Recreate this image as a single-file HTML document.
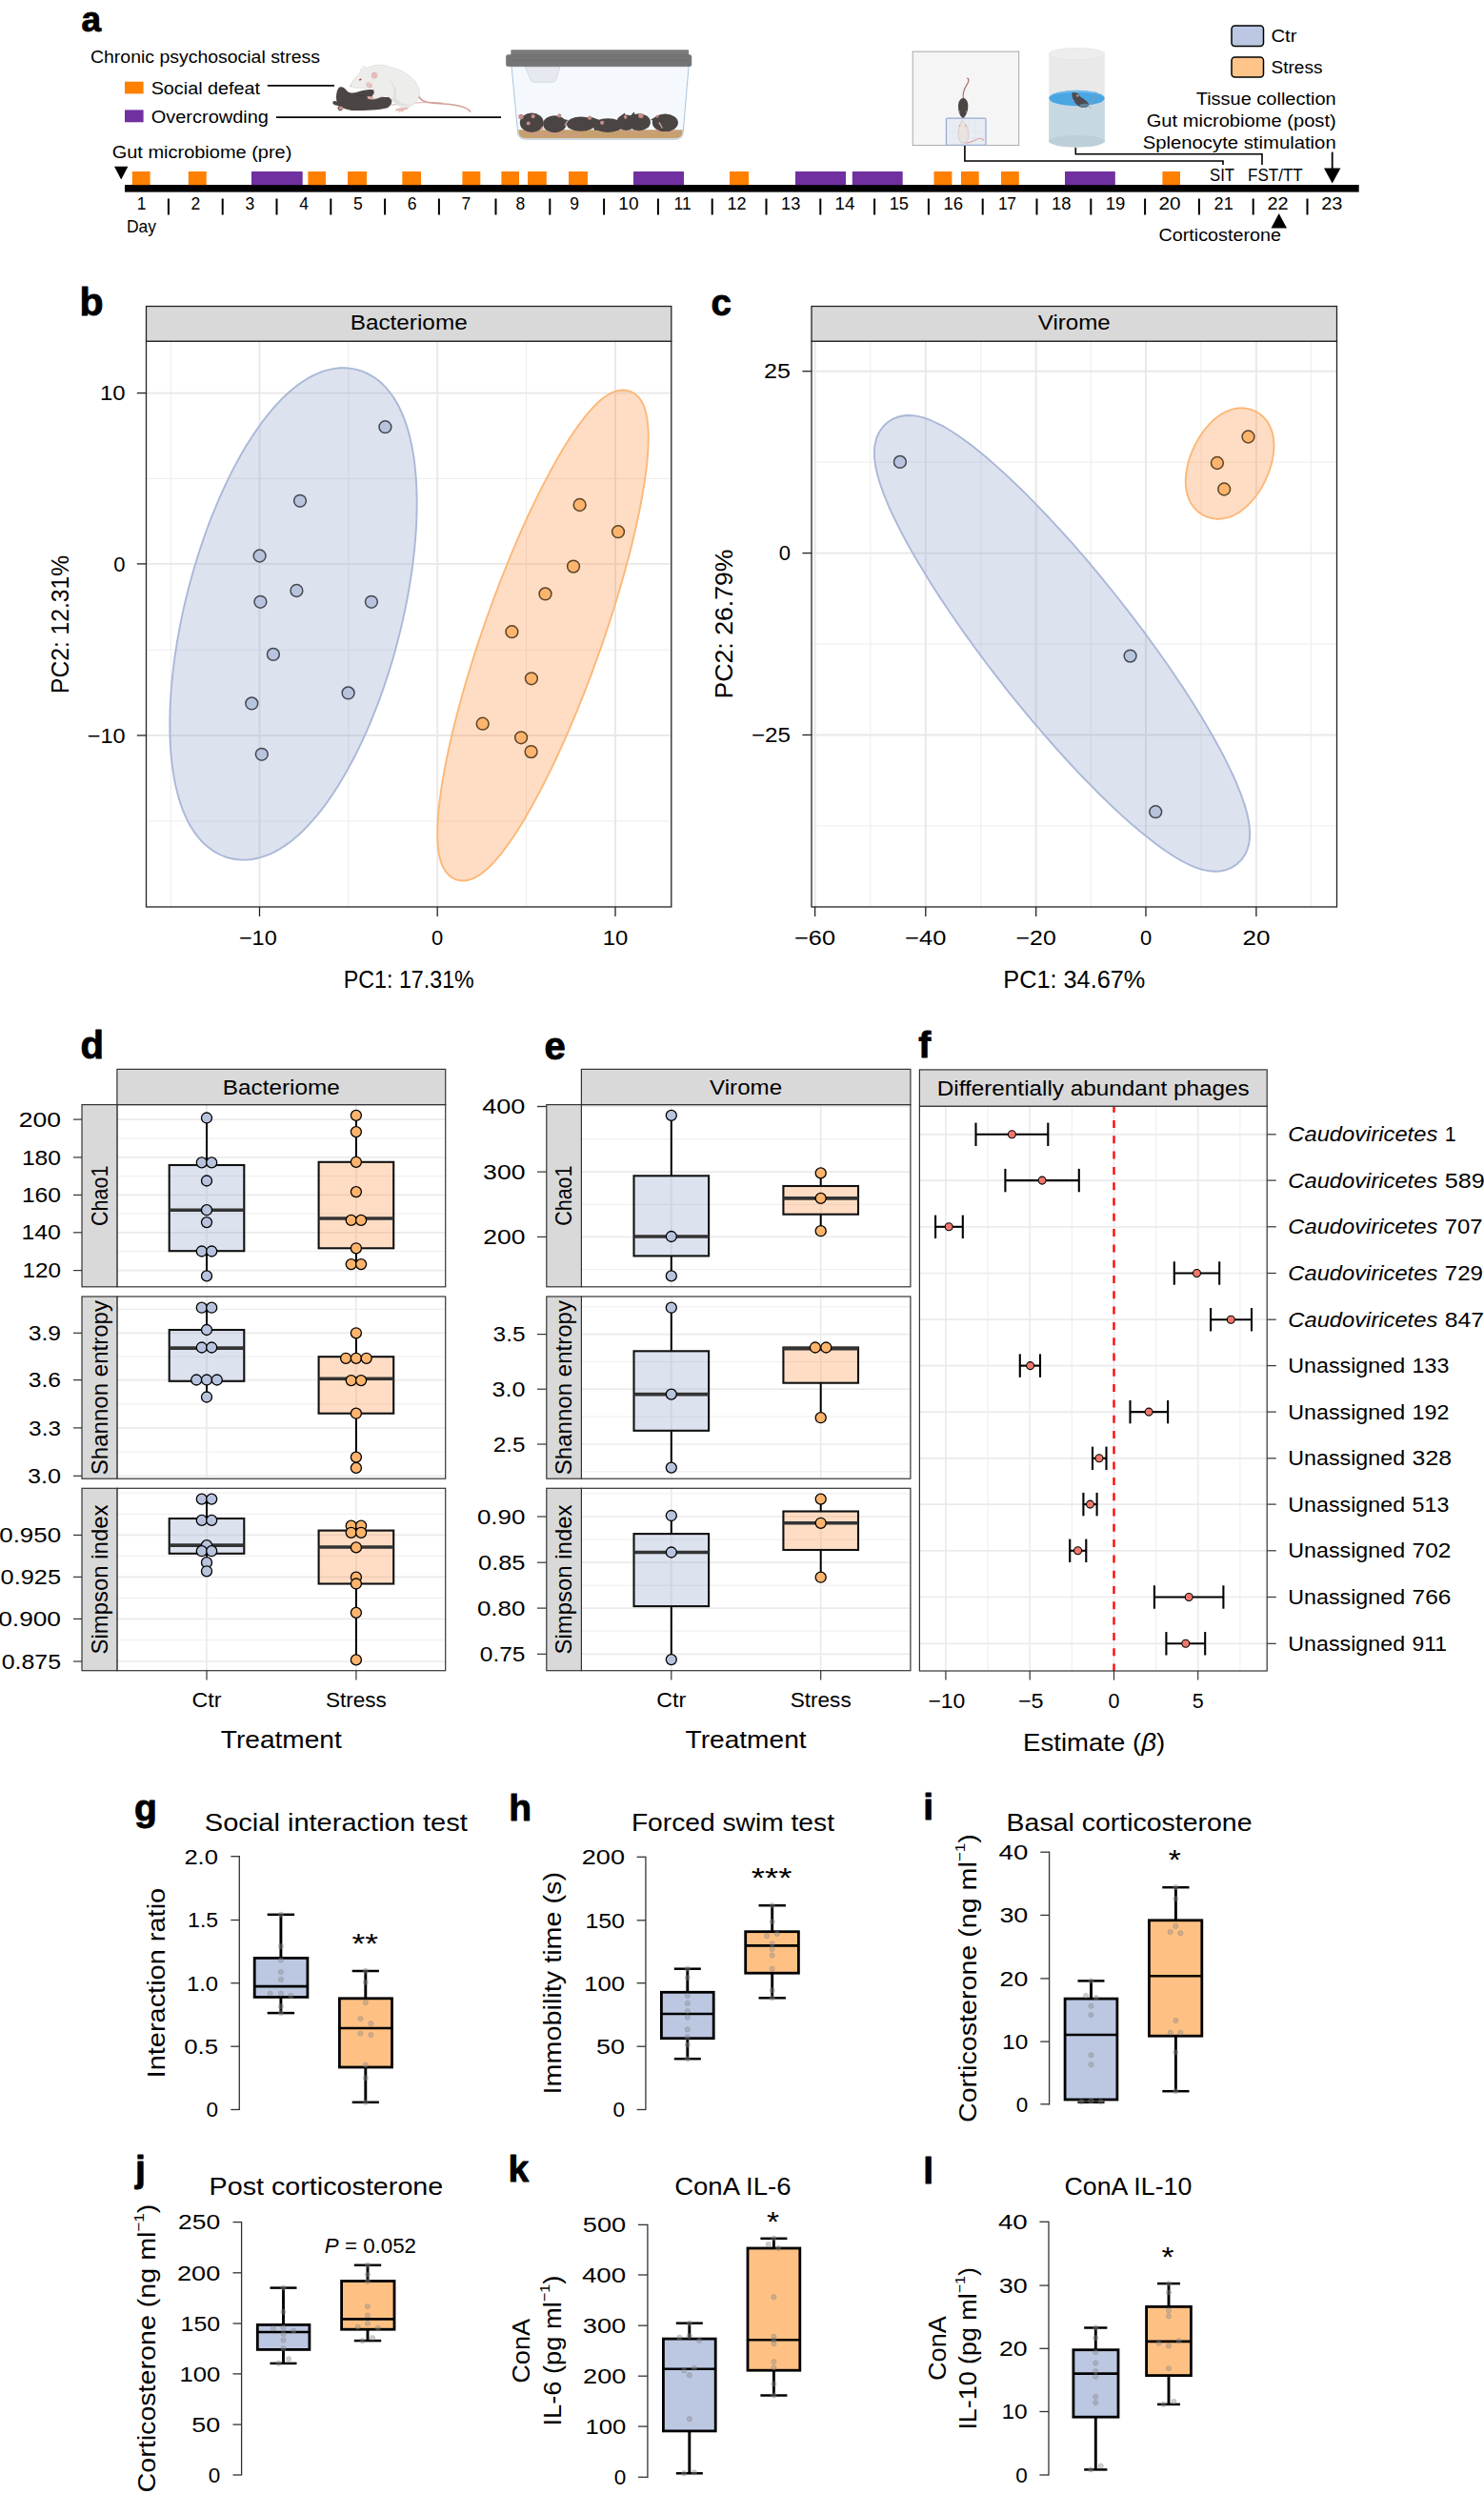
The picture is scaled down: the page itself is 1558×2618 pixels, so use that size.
<!DOCTYPE html>
<html><head><meta charset="utf-8"><title>Figure</title>
<style>html,body{margin:0;padding:0;background:#fff}svg{display:block}text{font-family:"Liberation Sans",sans-serif}</style>
</head><body>
<svg width="1558" height="2618" viewBox="0 0 1558 2618">
<rect width="1558" height="2618" fill="#fff"/>
<text x="85.5" y="33.0" font-size="37" font-weight="bold" stroke="#000" stroke-width="0.9" stroke-linejoin="round" fill="#000">a</text>
<text x="95.0" y="66.0" font-size="17.5" fill="#000" textLength="241.0" lengthAdjust="spacingAndGlyphs">Chronic psychosocial stress</text>
<rect x="131.0" y="85.7" width="19.6" height="12.7" fill="#ff8000" stroke="none" stroke-width="1"/>
<rect x="131.0" y="115.4" width="19.6" height="12.9" fill="#7030a0" stroke="none" stroke-width="1"/>
<text x="158.7" y="99.2" font-size="17.5" fill="#000" textLength="114.3" lengthAdjust="spacingAndGlyphs">Social defeat</text>
<text x="158.7" y="128.8" font-size="17.5" fill="#000" textLength="123.3" lengthAdjust="spacingAndGlyphs">Overcrowding</text>
<line x1="280.8" y1="89.8" x2="351.0" y2="89.8" stroke="#000" stroke-width="1.8"/>
<line x1="290.0" y1="123.2" x2="526.0" y2="123.2" stroke="#000" stroke-width="1.8"/>
<text x="117.7" y="166.3" font-size="17.5" fill="#000" textLength="188.7" lengthAdjust="spacingAndGlyphs">Gut microbiome (pre)</text>
<polygon points="120,174.7 134.4,174.7 127.2,188.5" fill="#000"/>
<rect x="131.0" y="194.0" width="1295.7" height="7.6" fill="#000" stroke="none" stroke-width="1"/>
<rect x="138.8" y="180.0" width="18.8" height="14.2" fill="#ff8000" stroke="none" stroke-width="1"/>
<rect x="197.8" y="180.0" width="18.9" height="14.2" fill="#ff8000" stroke="none" stroke-width="1"/>
<rect x="323.4" y="180.0" width="18.6" height="14.2" fill="#ff8000" stroke="none" stroke-width="1"/>
<rect x="365.0" y="180.0" width="20.0" height="14.2" fill="#ff8000" stroke="none" stroke-width="1"/>
<rect x="422.3" y="180.0" width="19.7" height="14.2" fill="#ff8000" stroke="none" stroke-width="1"/>
<rect x="485.4" y="180.0" width="18.9" height="14.2" fill="#ff8000" stroke="none" stroke-width="1"/>
<rect x="526.4" y="180.0" width="18.6" height="14.2" fill="#ff8000" stroke="none" stroke-width="1"/>
<rect x="554.0" y="180.0" width="19.8" height="14.2" fill="#ff8000" stroke="none" stroke-width="1"/>
<rect x="597.0" y="180.0" width="20.0" height="14.2" fill="#ff8000" stroke="none" stroke-width="1"/>
<rect x="766.0" y="180.0" width="20.0" height="14.2" fill="#ff8000" stroke="none" stroke-width="1"/>
<rect x="980.5" y="180.0" width="18.9" height="14.2" fill="#ff8000" stroke="none" stroke-width="1"/>
<rect x="1009.0" y="180.0" width="18.7" height="14.2" fill="#ff8000" stroke="none" stroke-width="1"/>
<rect x="1051.0" y="180.0" width="18.8" height="14.2" fill="#ff8000" stroke="none" stroke-width="1"/>
<rect x="1220.4" y="180.0" width="18.6" height="14.2" fill="#ff8000" stroke="none" stroke-width="1"/>
<rect x="264.0" y="180.0" width="53.7" height="14.2" fill="#7030a0" stroke="none" stroke-width="1"/>
<rect x="665.0" y="180.0" width="53.0" height="14.2" fill="#7030a0" stroke="none" stroke-width="1"/>
<rect x="835.0" y="180.0" width="53.0" height="14.2" fill="#7030a0" stroke="none" stroke-width="1"/>
<rect x="894.8" y="180.0" width="52.9" height="14.2" fill="#7030a0" stroke="none" stroke-width="1"/>
<rect x="1118.0" y="180.0" width="52.8" height="14.2" fill="#7030a0" stroke="none" stroke-width="1"/>
<text x="143.8" y="219.7" font-size="17.5" fill="#000">1</text>
<line x1="176.9" y1="208.5" x2="176.9" y2="225.5" stroke="#000" stroke-width="2"/>
<text x="200.6" y="219.7" font-size="17.5" fill="#000">2</text>
<line x1="233.7" y1="208.5" x2="233.7" y2="225.5" stroke="#000" stroke-width="2"/>
<text x="257.4" y="219.7" font-size="17.5" fill="#000">3</text>
<line x1="290.5" y1="208.5" x2="290.5" y2="225.5" stroke="#000" stroke-width="2"/>
<text x="314.2" y="219.7" font-size="17.5" fill="#000">4</text>
<line x1="347.3" y1="208.5" x2="347.3" y2="225.5" stroke="#000" stroke-width="2"/>
<text x="371.0" y="219.7" font-size="17.5" fill="#000">5</text>
<line x1="404.1" y1="208.5" x2="404.1" y2="225.5" stroke="#000" stroke-width="2"/>
<text x="427.8" y="219.7" font-size="17.5" fill="#000">6</text>
<line x1="460.9" y1="208.5" x2="460.9" y2="225.5" stroke="#000" stroke-width="2"/>
<text x="484.6" y="219.7" font-size="17.5" fill="#000">7</text>
<line x1="520.5" y1="208.5" x2="520.5" y2="225.5" stroke="#000" stroke-width="2"/>
<text x="541.4" y="219.7" font-size="17.5" fill="#000">8</text>
<line x1="577.3" y1="208.5" x2="577.3" y2="225.5" stroke="#000" stroke-width="2"/>
<text x="598.2" y="219.7" font-size="17.5" fill="#000">9</text>
<line x1="634.1" y1="208.5" x2="634.1" y2="225.5" stroke="#000" stroke-width="2"/>
<text x="649.3" y="219.7" font-size="17.5" fill="#000" textLength="21.2" lengthAdjust="spacingAndGlyphs">10</text>
<line x1="690.9" y1="208.5" x2="690.9" y2="225.5" stroke="#000" stroke-width="2"/>
<text x="707.6" y="219.7" font-size="17.5" fill="#000">11</text>
<line x1="747.7" y1="208.5" x2="747.7" y2="225.5" stroke="#000" stroke-width="2"/>
<text x="763.4" y="219.7" font-size="17.5" fill="#000" textLength="20.1" lengthAdjust="spacingAndGlyphs">12</text>
<line x1="804.5" y1="208.5" x2="804.5" y2="225.5" stroke="#000" stroke-width="2"/>
<text x="820.1" y="219.7" font-size="17.5" fill="#000" textLength="20.3" lengthAdjust="spacingAndGlyphs">13</text>
<line x1="861.3" y1="208.5" x2="861.3" y2="225.5" stroke="#000" stroke-width="2"/>
<text x="876.6" y="219.7" font-size="17.5" fill="#000" textLength="21.0" lengthAdjust="spacingAndGlyphs">14</text>
<line x1="918.1" y1="208.5" x2="918.1" y2="225.5" stroke="#000" stroke-width="2"/>
<text x="933.7" y="219.7" font-size="17.5" fill="#000" textLength="20.3" lengthAdjust="spacingAndGlyphs">15</text>
<line x1="974.9" y1="208.5" x2="974.9" y2="225.5" stroke="#000" stroke-width="2"/>
<text x="990.4" y="219.7" font-size="17.5" fill="#000" textLength="20.6" lengthAdjust="spacingAndGlyphs">16</text>
<line x1="1031.7" y1="208.5" x2="1031.7" y2="225.5" stroke="#000" stroke-width="2"/>
<text x="1047.9" y="219.7" font-size="17.5" fill="#000" textLength="19.2" lengthAdjust="spacing">17</text>
<line x1="1088.5" y1="208.5" x2="1088.5" y2="225.5" stroke="#000" stroke-width="2"/>
<text x="1104.0" y="219.7" font-size="17.5" fill="#000" textLength="20.6" lengthAdjust="spacingAndGlyphs">18</text>
<line x1="1145.3" y1="208.5" x2="1145.3" y2="225.5" stroke="#000" stroke-width="2"/>
<text x="1160.8" y="219.7" font-size="17.5" fill="#000" textLength="20.6" lengthAdjust="spacingAndGlyphs">19</text>
<line x1="1202.1" y1="208.5" x2="1202.1" y2="225.5" stroke="#000" stroke-width="2"/>
<text x="1216.4" y="219.7" font-size="17.5" fill="#000" textLength="23.1" lengthAdjust="spacingAndGlyphs">20</text>
<line x1="1258.9" y1="208.5" x2="1258.9" y2="225.5" stroke="#000" stroke-width="2"/>
<text x="1274.6" y="219.7" font-size="17.5" fill="#000" textLength="20.1" lengthAdjust="spacingAndGlyphs">21</text>
<line x1="1315.7" y1="208.5" x2="1315.7" y2="225.5" stroke="#000" stroke-width="2"/>
<text x="1330.5" y="219.7" font-size="17.5" fill="#000" textLength="22.1" lengthAdjust="spacingAndGlyphs">22</text>
<line x1="1372.5" y1="208.5" x2="1372.5" y2="225.5" stroke="#000" stroke-width="2"/>
<text x="1387.2" y="219.7" font-size="17.5" fill="#000" textLength="22.2" lengthAdjust="spacingAndGlyphs">23</text>
<text x="133.0" y="244.0" font-size="17.5" fill="#000" textLength="31.0" lengthAdjust="spacingAndGlyphs">Day</text>
<rect x="1293.0" y="27.0" width="33.5" height="21.5" fill="#bcc7e3" stroke="#000" stroke-width="1.5" rx="3.5"/>
<rect x="1293.0" y="60.0" width="33.5" height="21.0" fill="#ffc489" stroke="#000" stroke-width="1.5" rx="3.5"/>
<text x="1334.5" y="44.0" font-size="18" fill="#000" textLength="27.0" lengthAdjust="spacingAndGlyphs">Ctr</text>
<text x="1334.5" y="76.8" font-size="18" fill="#000" textLength="54.0" lengthAdjust="spacingAndGlyphs">Stress</text>
<text x="1255.7" y="110.0" font-size="17.5" fill="#000" textLength="147.0" lengthAdjust="spacingAndGlyphs">Tissue collection</text>
<text x="1203.7" y="132.9" font-size="17.5" fill="#000" textLength="199.0" lengthAdjust="spacingAndGlyphs">Gut microbiome (post)</text>
<text x="1199.7" y="155.8" font-size="17.5" fill="#000" textLength="203.0" lengthAdjust="spacingAndGlyphs">Splenocyte stimulation</text>
<line x1="1398.7" y1="159.6" x2="1398.7" y2="178.0" stroke="#000" stroke-width="1.8"/>
<polygon points="1390,176.5 1407.4,176.5 1398.7,192.5" fill="#000"/>
<text x="1270.0" y="189.5" font-size="17.5" fill="#000" textLength="26.0" lengthAdjust="spacingAndGlyphs">SIT</text>
<text x="1310.0" y="189.5" font-size="17.5" fill="#000" textLength="57.7" lengthAdjust="spacingAndGlyphs">FST/TT</text>
<polygon points="1334.5,239.4 1351,239.4 1342.7,224" fill="#000"/>
<text x="1216.5" y="252.8" font-size="17.5" fill="#000" textLength="128.5" lengthAdjust="spacingAndGlyphs">Corticosterone</text>
<path d="M1012.9 153 V169 H1284 V173" fill="none" stroke="#000" stroke-width="1.6"/>
<path d="M1129.3 155 V161.7 H1325 V173" fill="none" stroke="#000" stroke-width="1.6"/>
<g transform="translate(340 55) scale(0.10782)">
<path d="M650 512 C800 498 1000 478 1160 492" fill="none" stroke="#d9aca6" stroke-width="9"/>
<path d="M915 415 C950 480 1000 492 1100 496 C1250 502 1385 520 1425 575" fill="none" stroke="#d4a09a" stroke-width="15" stroke-linecap="round"/>
<path d="M85 490 C90 468 110 468 126 480 C114 430 124 362 150 340 C180 328 204 350 230 380 C260 400 300 396 330 385 C380 368 430 358 482 364 C504 380 502 402 490 420 C540 442 620 430 652 440 C672 470 662 512 620 540 C540 562 400 566 300 566 C260 566 220 556 190 542 C176 572 150 576 140 556 C130 540 135 526 150 520 C120 520 90 510 85 490 Z" fill="#4b4644"/>
<ellipse cx="165" cy="543" rx="22" ry="18" fill="#c9908c"/>
<path d="M300 395 C320 420 360 430 400 420" fill="none" stroke="#3d3937" stroke-width="6"/>
<path d="M255 325 C270 290 300 245 342 214 C352 190 362 165 372 150 C382 125 407 130 405 156 C440 140 500 120 550 122 C620 125 660 150 700 160 C770 176 850 230 900 300 C936 352 940 410 915 452 C890 500 850 532 800 536 C770 540 740 530 720 515 C700 500 690 486 670 470 C640 440 620 422 600 416 C560 432 520 452 480 456 C460 450 470 420 490 400 C492 380 486 350 480 336 C450 346 400 350 340 346 C300 346 265 340 255 325 Z" fill="#ededec" stroke="#d2d2d0" stroke-width="5"/>
<path d="M620 250 C680 300 700 400 660 462 C720 520 800 540 860 500 C820 520 740 500 700 440 C720 380 690 300 620 250 Z" fill="#dcdcda" fill-opacity="0.8"/>
<circle cx="482" cy="216" r="44" fill="#f4f4f3" stroke="#d2d2d0" stroke-width="4"/>
<ellipse cx="490" cy="222" rx="31" ry="33" fill="#e6bab6"/>
<ellipse cx="384" cy="156" rx="14" ry="20" fill="#f6f6f5" stroke="#d8d8d6" stroke-width="3" transform="rotate(20 384 156)"/>
<ellipse cx="355" cy="265" rx="13" ry="8" fill="#d23b3b" transform="rotate(-25 355 265)"/>
<circle cx="262" cy="326" r="7" fill="#e3a9a4"/>
<path d="M415 300 L425 330 M432 290 L437 328 M452 296 L450 330 M468 310 L460 338 M425 330 C435 350 455 350 465 336" fill="none" stroke="#d9a19b" stroke-width="8" stroke-linecap="round"/>
<path d="M420 432 C440 420 470 430 490 448 C480 462 450 462 430 452 Z" fill="#e0a9a3"/>
<path d="M700 552 C730 540 790 540 830 536 C820 552 800 560 775 562 L770 585 L752 566 L740 590 L728 566 L700 572 Z" fill="#e6b8b2"/>
</g>
<g transform="translate(525 45) scale(0.14151)">
<path d="M85 170 L1400 170 L1358 665 Q1354 715 1300 715 L190 715 Q136 715 132 665 Z" fill="#f5f9fd" stroke="#a9c3dc" stroke-width="7"/>
<path d="M185 176 L445 176 L415 272 Q408 292 388 292 L252 292 Q232 292 225 272 Z" fill="#e6e9ef" stroke="#c3cad5" stroke-width="4"/>
<path d="M136 645 L1354 645 L1352 668 Q1348 708 1300 708 L190 708 Q142 708 138 668 Z" fill="#c6a06f"/>
<path d="M170 668 C230 640 290 700 350 672 C410 650 450 700 520 690 C560 684 580 668 600 676 M900 650 C940 672 990 640 1040 662 C1060 670 1080 690 1090 680 M1150 655 C1200 640 1260 670 1320 655" fill="none" stroke="#cf9a8f" stroke-width="9"/>
<ellipse cx="235" cy="592" rx="88" ry="72" fill="#4a4543"/>
<ellipse cx="405" cy="602" rx="86" ry="64" fill="#4a4543"/>
<ellipse cx="600" cy="602" rx="106" ry="54" fill="#4a4543"/>
<ellipse cx="935" cy="592" rx="72" ry="58" fill="#4a4543"/>
<ellipse cx="1030" cy="588" rx="86" ry="64" fill="#4a4543"/>
<ellipse cx="1225" cy="592" rx="96" ry="66" fill="#4a4543"/>
<ellipse cx="800" cy="612" rx="112" ry="52" fill="#4a4543"/>
<path d="M440 560 L505 572 L470 610 Z M670 548 L745 575 L700 610 Z M870 560 L925 520 L940 580 Z M950 560 L995 510 L1010 575 Z M1118 568 L1170 540 L1170 600 Z M690 610 L740 585 L760 640 L700 650 Z" fill="#4a4543"/>
<circle cx="155" cy="548" r="19" fill="#c48d89"/>
<circle cx="245" cy="545" r="15" fill="#c48d89"/>
<circle cx="210" cy="597" r="14" fill="#c48d89"/>
<circle cx="440" cy="540" r="15" fill="#c48d89"/>
<circle cx="665" cy="556" r="15" fill="#c48d89"/>
<circle cx="757" cy="592" r="15" fill="#c48d89"/>
<circle cx="930" cy="550" r="13" fill="#c48d89"/>
<circle cx="1045" cy="540" r="19" fill="#c48d89"/>
<circle cx="1166" cy="546" r="10" fill="#c48d89"/>
<circle cx="312" cy="632" r="9" fill="#c48d89"/>
<circle cx="486" cy="606" r="9" fill="#c48d89"/>
<path d="M1178 590 C1188 600 1196 615 1204 632" fill="none" stroke="#d9a6a0" stroke-width="9"/>
<rect x="80" y="52" width="1320" height="45" rx="8" fill="#7a7a7a"/>
<rect x="45" y="88" width="1375" height="87" rx="14" fill="#757575" stroke="#686868" stroke-width="3"/>
<path d="M84 172 L84 138 Q84 130 92 130 L1388 130 Q1396 130 1396 138 L1396 172" fill="none" stroke="#6a6a6a" stroke-width="4"/>
</g>
<g transform="translate(950 40) scale(0.14825)">
<rect x="55" y="95" width="753" height="665" fill="#f5f5f5" stroke="#8f8f8f" stroke-width="5"/>
<rect x="293" y="568" width="280" height="189" rx="8" fill="#e8ecf3" stroke="#95a8d2" stroke-width="8"/>
<path d="M345 568 V757 M397 568 V757 M449 568 V757 M501 568 V757 M293 615 H573 M293 662 H573 M293 709 H573" stroke="#dfe4ee" stroke-width="3" fill="none"/>
<path d="M415 430 C405 395 425 350 445 320 C455 300 452 288 443 284" fill="none" stroke="#a8706a" stroke-width="8" stroke-linecap="round"/>
<path d="M413 425 C440 428 452 460 446 500 C442 530 426 560 411 566 C394 556 382 530 379 500 C374 460 386 428 413 425 Z" fill="#4a4644"/>
<circle cx="386" cy="522" r="6" fill="#b98580"/><circle cx="436" cy="522" r="6" fill="#b98580"/>
<path d="M425 742 C470 745 500 715 530 710 C545 708 552 716 558 724" fill="none" stroke="#dba8a2" stroke-width="8" stroke-linecap="round"/>
<path d="M408 584 C430 600 450 640 450 680 C450 720 435 742 413 744 C392 742 378 720 378 680 C378 640 392 600 408 584 Z" fill="#e9e3e1" stroke="#cdb9b4" stroke-width="4"/>
<circle cx="388" cy="622" r="6" fill="#dba8a2"/><circle cx="430" cy="622" r="6" fill="#dba8a2"/>
<path d="M1020 112 A197.5 42 0 0 1 1415 112 V730 A197.5 42 0 0 1 1020 730 Z" fill="#e9e9e9"/>
<path d="M1020 425 V730 A197.5 42 0 0 0 1415 730 V425 Z" fill="#c7d8e2"/>
<ellipse cx="1217.5" cy="730" rx="197.5" ry="42" fill="#becfd9"/>
<ellipse cx="1217.5" cy="425" rx="197.5" ry="55" fill="#4aa6e3"/>
<path d="M1022 418 A197.5 55 0 0 1 1413 418 A197.5 40 0 0 0 1022 418 Z" fill="#74bdee"/>
<ellipse cx="1217.5" cy="112" rx="197.5" ry="42" fill="#ededed" stroke="#e0e0e0" stroke-width="3"/>
<path d="M1300 470 C1335 455 1348 420 1352 380" fill="none" stroke="#9c8f96" stroke-width="6"/>
<path d="M1182 388 C1200 378 1232 390 1238 412 C1262 430 1296 448 1304 470 C1300 492 1262 498 1238 486 C1212 472 1192 440 1186 418 Z" fill="#4b4b50"/>
<path d="M1238 470 C1262 462 1290 462 1304 470 C1300 492 1262 498 1238 486 Z" fill="#5f7f98"/>
<circle cx="1222" cy="408" r="8" fill="#c98f8b"/>
<path d="M1200 445 L1176 432 M1300 482 L1322 496" stroke="#a89aa0" stroke-width="5"/>
</g>
<text x="83.5" y="331.0" font-size="41" font-weight="bold" stroke="#000" stroke-width="0.9" stroke-linejoin="round" fill="#000">b</text>
<text x="746.5" y="331.2" font-size="38.5" font-weight="bold" stroke="#000" stroke-width="0.9" stroke-linejoin="round" fill="#000">c</text>
<rect x="153.5" y="358.2" width="551.3" height="593.8" fill="#fff" stroke="none" stroke-width="1"/>
<line x1="179.4" y1="358.2" x2="179.4" y2="952.0" stroke="#ececec" stroke-width="1.0"/>
<line x1="365.9" y1="358.2" x2="365.9" y2="952.0" stroke="#ececec" stroke-width="1.0"/>
<line x1="552.6" y1="358.2" x2="552.6" y2="952.0" stroke="#ececec" stroke-width="1.0"/>
<line x1="153.5" y1="502.3" x2="704.8" y2="502.3" stroke="#ececec" stroke-width="1.0"/>
<line x1="153.5" y1="682.2" x2="704.8" y2="682.2" stroke="#ececec" stroke-width="1.0"/>
<line x1="153.5" y1="862.0" x2="704.8" y2="862.0" stroke="#ececec" stroke-width="1.0"/>
<line x1="272.5" y1="358.2" x2="272.5" y2="952.0" stroke="#e8e8e8" stroke-width="1.9"/>
<line x1="459.2" y1="358.2" x2="459.2" y2="952.0" stroke="#e8e8e8" stroke-width="1.9"/>
<line x1="646.0" y1="358.2" x2="646.0" y2="952.0" stroke="#e8e8e8" stroke-width="1.9"/>
<line x1="153.5" y1="412.6" x2="704.8" y2="412.6" stroke="#e8e8e8" stroke-width="1.9"/>
<line x1="153.5" y1="591.9" x2="704.8" y2="591.9" stroke="#e8e8e8" stroke-width="1.9"/>
<line x1="153.5" y1="772.0" x2="704.8" y2="772.0" stroke="#e8e8e8" stroke-width="1.9"/>
<clipPath id="cb"><rect x="153.5" y="358.2" width="551.3" height="593.8"/></clipPath>
<g clip-path="url(#cb)">
<polygon points="375.0,388.1 380.8,389.9 386.3,392.4 391.5,395.3 396.5,398.8 401.0,402.6 405.2,406.9 409.0,411.5 412.6,416.3 415.8,421.4 418.8,426.8 421.4,432.5 423.9,438.3 426.1,444.4 428.1,450.8 429.9,457.3 431.5,464.1 432.9,471.1 434.2,478.3 435.2,485.7 436.0,493.3 436.7,501.1 437.2,509.1 437.5,517.3 437.7,525.6 437.6,534.1 437.4,542.7 437.1,551.5 436.5,560.4 435.8,569.5 434.9,578.6 433.9,587.9 432.7,597.2 431.3,606.6 429.8,616.0 428.1,625.5 426.3,635.0 424.3,644.5 422.2,654.1 419.9,663.6 417.5,673.1 415.0,682.6 412.3,692.0 409.5,701.3 406.5,710.6 403.5,719.8 400.3,728.9 397.0,737.9 393.6,746.7 390.1,755.4 386.5,764.0 382.8,772.4 379.0,780.6 375.1,788.7 371.1,796.5 367.0,804.1 362.9,811.6 358.7,818.8 354.4,825.7 350.1,832.5 345.7,838.9 341.2,845.2 336.7,851.1 332.1,856.8 327.4,862.2 322.7,867.3 318.0,872.2 313.1,876.7 308.2,880.9 303.2,884.9 298.1,888.4 292.9,891.7 287.6,894.6 282.1,897.1 276.5,899.2 270.8,900.8 264.9,902.0 258.9,902.6 252.9,902.6 246.9,902.0 241.0,900.8 235.2,899.0 229.6,896.5 224.4,893.6 219.5,890.1 214.9,886.3 210.7,882.0 206.9,877.4 203.4,872.6 200.1,867.5 197.2,862.1 194.5,856.4 192.0,850.6 189.8,844.5 187.8,838.1 186.0,831.6 184.4,824.8 183.0,817.8 181.8,810.6 180.8,803.2 179.9,795.6 179.2,787.8 178.7,779.8 178.4,771.6 178.3,763.3 178.3,754.8 178.5,746.2 178.9,737.4 179.4,728.5 180.1,719.4 181.0,710.3 182.0,701.0 183.2,691.7 184.6,682.3 186.1,672.9 187.8,663.4 189.6,653.9 191.6,644.4 193.7,634.8 196.0,625.3 198.4,615.8 201.0,606.3 203.6,596.9 206.5,587.6 209.4,578.3 212.5,569.1 215.6,560.0 218.9,551.0 222.3,542.2 225.9,533.5 229.5,524.9 233.2,516.5 237.0,508.3 240.9,500.2 244.8,492.4 248.9,484.8 253.0,477.3 257.2,470.1 261.5,463.2 265.9,456.4 270.3,450.0 274.7,443.7 279.3,437.8 283.8,432.1 288.5,426.7 293.2,421.6 298.0,416.7 302.8,412.2 307.7,408.0 312.8,404.0 317.9,400.5 323.1,397.2 328.4,394.3 333.8,391.8 339.4,389.7 345.2,388.1 351.0,386.9 357.0,386.3 363.0,386.3 369.0,386.9" fill="#8da0cb" fill-opacity="0.3" stroke="#aab8d8" stroke-width="1.9" stroke-linejoin="round"/>
<polygon points="661.2,410.7 665.0,412.5 668.3,414.9 671.1,417.8 673.4,421.0 675.2,424.5 676.7,428.2 677.9,432.1 678.8,436.2 679.6,440.6 680.1,445.2 680.5,450.2 680.7,455.4 680.7,460.8 680.6,466.6 680.3,472.6 679.9,478.9 679.3,485.5 678.5,492.3 677.6,499.4 676.6,506.8 675.3,514.4 674.0,522.2 672.5,530.2 670.9,538.4 669.1,546.8 667.2,555.4 665.1,564.2 663.0,573.2 660.7,582.2 658.2,591.4 655.7,600.8 653.0,610.2 650.3,619.7 647.4,629.3 644.4,639.0 641.3,648.7 638.2,658.4 634.9,668.2 631.6,677.9 628.1,687.7 624.6,697.4 621.1,707.1 617.4,716.7 613.7,726.3 610.0,735.7 606.2,745.1 602.4,754.4 598.5,763.5 594.6,772.5 590.7,781.3 586.7,790.0 582.8,798.5 578.8,806.8 574.9,814.9 570.9,822.7 567.0,830.4 563.0,837.8 559.1,845.0 555.2,851.9 551.4,858.5 547.6,864.9 543.8,870.9 540.0,876.7 536.4,882.2 532.7,887.4 529.1,892.2 525.6,896.8 522.1,901.0 518.7,904.9 515.3,908.5 511.9,911.7 508.6,914.6 505.2,917.2 501.8,919.5 498.3,921.4 494.7,922.9 491.0,924.0 487.0,924.5 482.9,924.3 478.8,923.3 475.0,921.5 471.6,919.1 468.9,916.2 466.6,912.9 464.8,909.5 463.3,905.8 462.1,901.9 461.2,897.8 460.4,893.4 459.9,888.7 459.5,883.8 459.3,878.6 459.3,873.1 459.4,867.4 459.7,861.4 460.1,855.0 460.7,848.5 461.5,841.6 462.4,834.5 463.4,827.2 464.6,819.6 466.0,811.8 467.5,803.8 469.1,795.6 470.9,787.1 472.8,778.5 474.8,769.8 477.0,760.8 479.3,751.7 481.7,742.5 484.3,733.2 486.9,723.8 489.7,714.3 492.6,704.7 495.6,695.0 498.6,685.3 501.8,675.6 505.1,665.8 508.4,656.0 511.9,646.3 515.4,636.6 518.9,626.9 522.6,617.3 526.2,607.7 530.0,598.3 533.8,588.9 537.6,579.6 541.5,570.5 545.4,561.5 549.3,552.7 553.2,544.0 557.2,535.5 561.2,527.2 565.1,519.1 569.1,511.2 573.0,503.6 577.0,496.2 580.9,489.0 584.7,482.1 588.6,475.5 592.4,469.1 596.2,463.1 599.9,457.3 603.6,451.8 607.3,446.6 610.9,441.8 614.4,437.2 617.9,433.0 621.3,429.1 624.7,425.5 628.1,422.3 631.4,419.3 634.8,416.7 638.2,414.5 641.6,412.6 645.2,411.0 649.0,410.0 653.0,409.5 657.1,409.7" fill="#fd8d3c" fill-opacity="0.3" stroke="#fdb777" stroke-width="1.9" stroke-linejoin="round"/>
</g>
<circle cx="404.4" cy="448.2" r="6.4" fill="#b8c3de" stroke="#43474f" stroke-width="1.5"/>
<circle cx="315.0" cy="525.8" r="6.4" fill="#b8c3de" stroke="#43474f" stroke-width="1.5"/>
<circle cx="272.6" cy="583.5" r="6.4" fill="#b8c3de" stroke="#43474f" stroke-width="1.5"/>
<circle cx="311.4" cy="620.0" r="6.4" fill="#b8c3de" stroke="#43474f" stroke-width="1.5"/>
<circle cx="273.4" cy="631.8" r="6.4" fill="#b8c3de" stroke="#43474f" stroke-width="1.5"/>
<circle cx="389.9" cy="631.8" r="6.4" fill="#b8c3de" stroke="#43474f" stroke-width="1.5"/>
<circle cx="286.9" cy="686.9" r="6.4" fill="#b8c3de" stroke="#43474f" stroke-width="1.5"/>
<circle cx="365.6" cy="727.4" r="6.4" fill="#b8c3de" stroke="#43474f" stroke-width="1.5"/>
<circle cx="264.3" cy="738.4" r="6.4" fill="#b8c3de" stroke="#43474f" stroke-width="1.5"/>
<circle cx="274.8" cy="791.8" r="6.4" fill="#b8c3de" stroke="#43474f" stroke-width="1.5"/>
<circle cx="608.6" cy="530.0" r="6.4" fill="#fdb46d" stroke="#5c4327" stroke-width="1.5"/>
<circle cx="649.0" cy="558.2" r="6.4" fill="#fdb46d" stroke="#5c4327" stroke-width="1.5"/>
<circle cx="602.0" cy="594.6" r="6.4" fill="#fdb46d" stroke="#5c4327" stroke-width="1.5"/>
<circle cx="572.5" cy="623.4" r="6.4" fill="#fdb46d" stroke="#5c4327" stroke-width="1.5"/>
<circle cx="537.4" cy="663.2" r="6.4" fill="#fdb46d" stroke="#5c4327" stroke-width="1.5"/>
<circle cx="557.9" cy="712.3" r="6.4" fill="#fdb46d" stroke="#5c4327" stroke-width="1.5"/>
<circle cx="506.7" cy="759.7" r="6.4" fill="#fdb46d" stroke="#5c4327" stroke-width="1.5"/>
<circle cx="547.1" cy="774.3" r="6.4" fill="#fdb46d" stroke="#5c4327" stroke-width="1.5"/>
<circle cx="557.6" cy="789.1" r="6.4" fill="#fdb46d" stroke="#5c4327" stroke-width="1.5"/>
<rect x="153.5" y="358.2" width="551.3" height="593.8" fill="none" stroke="#222" stroke-width="1.3"/>
<rect x="153.5" y="321.5" width="551.3" height="36.7" fill="#d9d9d9" stroke="#222" stroke-width="1.3"/>
<text x="367.7" y="345.8" font-size="21.5" fill="#000" textLength="123.0" lengthAdjust="spacingAndGlyphs">Bacteriome</text>
<line x1="143.8" y1="412.6" x2="153.5" y2="412.6" stroke="#222" stroke-width="1.3"/>
<text x="104.9" y="420.2" font-size="22" fill="#000" textLength="26.6" lengthAdjust="spacingAndGlyphs">10</text>
<line x1="143.8" y1="591.9" x2="153.5" y2="591.9" stroke="#222" stroke-width="1.3"/>
<text x="119.3" y="599.5" font-size="22" fill="#000">0</text>
<line x1="143.8" y1="772.0" x2="153.5" y2="772.0" stroke="#222" stroke-width="1.3"/>
<text x="91.7" y="779.6" font-size="22" fill="#000" textLength="39.8" lengthAdjust="spacingAndGlyphs">−10</text>
<line x1="272.5" y1="952.0" x2="272.5" y2="962.0" stroke="#222" stroke-width="1.3"/>
<text x="250.9" y="991.8" font-size="22" fill="#000" textLength="39.8" lengthAdjust="spacingAndGlyphs">−10</text>
<line x1="459.2" y1="952.0" x2="459.2" y2="962.0" stroke="#222" stroke-width="1.3"/>
<text x="453.1" y="991.8" font-size="22" fill="#000">0</text>
<line x1="646.0" y1="952.0" x2="646.0" y2="962.0" stroke="#222" stroke-width="1.3"/>
<text x="632.7" y="991.8" font-size="22" fill="#000" textLength="26.6" lengthAdjust="spacingAndGlyphs">10</text>
<text x="360.8" y="1036.8" font-size="25.5" fill="#000" textLength="137.0" lengthAdjust="spacingAndGlyphs">PC1: 17.31%</text>
<text x="-0.2" y="655.5" font-size="25.5" fill="#000" textLength="145.0" lengthAdjust="spacingAndGlyphs" transform="rotate(-90 72.3 655.5)">PC2: 12.31%</text>
<rect x="852.0" y="358.2" width="551.5" height="593.8" fill="#fff" stroke="none" stroke-width="1"/>
<line x1="913.9" y1="358.2" x2="913.9" y2="952.0" stroke="#ececec" stroke-width="1.0"/>
<line x1="1029.8" y1="358.2" x2="1029.8" y2="952.0" stroke="#ececec" stroke-width="1.0"/>
<line x1="1145.3" y1="358.2" x2="1145.3" y2="952.0" stroke="#ececec" stroke-width="1.0"/>
<line x1="1261.0" y1="358.2" x2="1261.0" y2="952.0" stroke="#ececec" stroke-width="1.0"/>
<line x1="1376.3" y1="358.2" x2="1376.3" y2="952.0" stroke="#ececec" stroke-width="1.0"/>
<line x1="852.0" y1="485.1" x2="1403.5" y2="485.1" stroke="#ececec" stroke-width="1.0"/>
<line x1="852.0" y1="676.0" x2="1403.5" y2="676.0" stroke="#ececec" stroke-width="1.0"/>
<line x1="852.0" y1="866.9" x2="1403.5" y2="866.9" stroke="#ececec" stroke-width="1.0"/>
<line x1="855.6" y1="358.2" x2="855.6" y2="952.0" stroke="#e8e8e8" stroke-width="1.9"/>
<line x1="971.8" y1="358.2" x2="971.8" y2="952.0" stroke="#e8e8e8" stroke-width="1.9"/>
<line x1="1087.7" y1="358.2" x2="1087.7" y2="952.0" stroke="#e8e8e8" stroke-width="1.9"/>
<line x1="1203.0" y1="358.2" x2="1203.0" y2="952.0" stroke="#e8e8e8" stroke-width="1.9"/>
<line x1="1318.9" y1="358.2" x2="1318.9" y2="952.0" stroke="#e8e8e8" stroke-width="1.9"/>
<line x1="852.0" y1="389.7" x2="1403.5" y2="389.7" stroke="#e8e8e8" stroke-width="1.9"/>
<line x1="852.0" y1="580.6" x2="1403.5" y2="580.6" stroke="#e8e8e8" stroke-width="1.9"/>
<line x1="852.0" y1="771.5" x2="1403.5" y2="771.5" stroke="#e8e8e8" stroke-width="1.9"/>
<clipPath id="cc"><rect x="852" y="358.2" width="551.5" height="593.8"/></clipPath>
<g clip-path="url(#cc)">
<polygon points="1298.4,907.3 1292.8,910.9 1286.7,913.3 1280.8,914.5 1275.1,914.8 1269.7,914.3 1264.6,913.4 1259.6,912.1 1254.7,910.3 1249.9,908.3 1245.0,906.0 1240.1,903.4 1235.0,900.5 1229.9,897.3 1224.6,893.8 1219.2,890.0 1213.7,886.0 1208.1,881.6 1202.3,877.0 1196.4,872.2 1190.3,867.1 1184.2,861.7 1177.9,856.1 1171.6,850.2 1165.1,844.1 1158.5,837.7 1151.9,831.2 1145.2,824.4 1138.4,817.5 1131.6,810.3 1124.7,803.0 1117.8,795.5 1110.9,787.8 1104.0,780.0 1097.0,772.1 1090.1,764.0 1083.1,755.9 1076.2,747.6 1069.3,739.2 1062.5,730.8 1055.7,722.3 1049.0,713.7 1042.4,705.1 1035.8,696.5 1029.4,687.9 1023.0,679.2 1016.8,670.6 1010.6,662.0 1004.6,653.5 998.8,645.0 993.1,636.5 987.5,628.1 982.2,619.9 976.9,611.7 971.9,603.6 967.1,595.6 962.4,587.8 957.9,580.1 953.7,572.5 949.7,565.2 945.8,557.9 942.3,550.9 938.9,544.0 935.7,537.3 932.8,530.8 930.2,524.5 927.7,518.4 925.6,512.5 923.6,506.7 922.0,501.2 920.6,495.8 919.4,490.5 918.6,485.3 918.0,480.1 917.9,475.0 918.1,469.8 919.0,464.5 920.5,459.0 923.1,453.5 926.8,448.2 931.6,443.5 937.3,439.8 943.3,437.5 949.3,436.3 954.9,436.0 960.3,436.4 965.4,437.4 970.4,438.7 975.3,440.4 980.1,442.5 985.0,444.8 990.0,447.4 995.0,450.3 1000.1,453.5 1005.4,457.0 1010.8,460.8 1016.3,464.8 1022.0,469.1 1027.7,473.7 1033.7,478.6 1039.7,483.7 1045.8,489.1 1052.1,494.7 1058.5,500.6 1064.9,506.7 1071.5,513.0 1078.1,519.6 1084.8,526.4 1091.6,533.3 1098.4,540.5 1105.3,547.8 1112.2,555.3 1119.1,562.9 1126.1,570.7 1133.0,578.7 1140.0,586.7 1146.9,594.9 1153.8,603.2 1160.7,611.6 1167.5,620.0 1174.3,628.5 1181.0,637.1 1187.6,645.7 1194.2,654.3 1200.7,662.9 1207.0,671.5 1213.3,680.2 1219.4,688.7 1225.4,697.3 1231.2,705.8 1236.9,714.3 1242.5,722.6 1247.9,730.9 1253.1,739.1 1258.1,747.2 1263.0,755.2 1267.6,763.0 1272.1,770.7 1276.3,778.2 1280.4,785.6 1284.2,792.8 1287.8,799.9 1291.1,806.8 1294.3,813.5 1297.2,819.9 1299.8,826.3 1302.3,832.4 1304.4,838.3 1306.4,844.0 1308.0,849.6 1309.5,855.0 1310.6,860.3 1311.5,865.5 1312.0,870.6 1312.2,875.8 1311.9,881.0 1311.1,886.3 1309.5,891.8 1307.0,897.3 1303.3,902.6" fill="#8da0cb" fill-opacity="0.3" stroke="#aab8d8" stroke-width="1.9" stroke-linejoin="round"/>
<polygon points="1317.6,431.6 1319.9,432.8 1322.1,434.2 1324.2,435.8 1326.1,437.5 1327.8,439.3 1329.3,441.2 1330.7,443.1 1331.9,445.0 1333.0,447.0 1333.9,449.0 1334.7,451.0 1335.3,452.9 1335.9,454.9 1336.4,456.8 1336.7,458.7 1337.0,460.7 1337.2,462.6 1337.4,464.5 1337.5,466.3 1337.5,468.2 1337.4,470.1 1337.4,471.9 1337.2,473.8 1337.0,475.6 1336.8,477.5 1336.5,479.3 1336.2,481.2 1335.8,483.0 1335.4,484.8 1334.9,486.7 1334.4,488.5 1333.9,490.3 1333.3,492.1 1332.7,493.9 1332.1,495.7 1331.4,497.5 1330.7,499.2 1330.0,501.0 1329.2,502.7 1328.4,504.5 1327.5,506.2 1326.6,507.9 1325.7,509.6 1324.8,511.2 1323.8,512.9 1322.8,514.5 1321.8,516.1 1320.7,517.7 1319.6,519.2 1318.5,520.7 1317.4,522.2 1316.2,523.7 1315.0,525.1 1313.8,526.5 1312.5,527.9 1311.2,529.2 1309.9,530.5 1308.5,531.8 1307.1,533.0 1305.7,534.2 1304.2,535.4 1302.7,536.5 1301.1,537.6 1299.5,538.6 1297.8,539.5 1296.1,540.5 1294.3,541.3 1292.4,542.1 1290.5,542.8 1288.4,543.4 1286.3,543.9 1284.1,544.3 1281.8,544.6 1279.5,544.7 1277.0,544.7 1274.6,544.4 1272.1,544.0 1269.6,543.4 1267.1,542.6 1264.7,541.5 1262.3,540.3 1260.1,538.9 1258.1,537.3 1256.2,535.6 1254.5,533.8 1252.9,531.9 1251.6,530.0 1250.3,528.1 1249.3,526.1 1248.4,524.1 1247.6,522.1 1246.9,520.2 1246.4,518.2 1245.9,516.3 1245.5,514.4 1245.2,512.4 1245.0,510.5 1244.9,508.6 1244.8,506.8 1244.8,504.9 1244.8,503.0 1244.9,501.2 1245.0,499.3 1245.2,497.5 1245.5,495.6 1245.8,493.8 1246.1,491.9 1246.5,490.1 1246.9,488.3 1247.3,486.4 1247.8,484.6 1248.3,482.8 1248.9,481.0 1249.5,479.2 1250.2,477.4 1250.8,475.6 1251.6,473.9 1252.3,472.1 1253.1,470.4 1253.9,468.6 1254.7,466.9 1255.6,465.2 1256.5,463.5 1257.5,461.9 1258.4,460.2 1259.4,458.6 1260.5,457.0 1261.5,455.4 1262.6,453.9 1263.7,452.4 1264.9,450.9 1266.0,449.4 1267.2,448.0 1268.5,446.6 1269.7,445.2 1271.0,443.9 1272.4,442.6 1273.7,441.3 1275.1,440.1 1276.6,438.9 1278.0,437.7 1279.6,436.6 1281.1,435.5 1282.8,434.5 1284.4,433.6 1286.2,432.6 1288.0,431.8 1289.8,431.0 1291.8,430.3 1293.8,429.7 1295.9,429.2 1298.1,428.8 1300.4,428.5 1302.8,428.4 1305.2,428.4 1307.7,428.7 1310.2,429.1 1312.7,429.7 1315.2,430.5" fill="#fd8d3c" fill-opacity="0.3" stroke="#fdb777" stroke-width="1.9" stroke-linejoin="round"/>
</g>
<circle cx="944.9" cy="484.9" r="6.4" fill="#b8c3de" stroke="#43474f" stroke-width="1.5"/>
<circle cx="1186.6" cy="688.6" r="6.4" fill="#b8c3de" stroke="#43474f" stroke-width="1.5"/>
<circle cx="1213.2" cy="852.2" r="6.4" fill="#b8c3de" stroke="#43474f" stroke-width="1.5"/>
<circle cx="1310.5" cy="458.5" r="6.4" fill="#fdb46d" stroke="#5c4327" stroke-width="1.5"/>
<circle cx="1277.9" cy="486.0" r="6.4" fill="#fdb46d" stroke="#5c4327" stroke-width="1.5"/>
<circle cx="1285.2" cy="513.5" r="6.4" fill="#fdb46d" stroke="#5c4327" stroke-width="1.5"/>
<rect x="852.0" y="358.2" width="551.5" height="593.8" fill="none" stroke="#222" stroke-width="1.3"/>
<rect x="852.0" y="321.5" width="551.5" height="36.7" fill="#d9d9d9" stroke="#222" stroke-width="1.3"/>
<text x="1089.8" y="345.8" font-size="21.5" fill="#000" textLength="76.0" lengthAdjust="spacingAndGlyphs">Virome</text>
<line x1="842.4" y1="389.7" x2="852.0" y2="389.7" stroke="#222" stroke-width="1.3"/>
<text x="802.1" y="397.3" font-size="22" fill="#000" textLength="27.9" lengthAdjust="spacingAndGlyphs">25</text>
<line x1="842.4" y1="580.6" x2="852.0" y2="580.6" stroke="#222" stroke-width="1.3"/>
<text x="817.8" y="588.2" font-size="22" fill="#000">0</text>
<line x1="842.4" y1="771.5" x2="852.0" y2="771.5" stroke="#222" stroke-width="1.3"/>
<text x="788.9" y="779.1" font-size="22" fill="#000" textLength="41.1" lengthAdjust="spacingAndGlyphs">−25</text>
<line x1="855.6" y1="952.0" x2="855.6" y2="962.0" stroke="#222" stroke-width="1.3"/>
<text x="834.1" y="991.8" font-size="22" fill="#000" textLength="42.9" lengthAdjust="spacingAndGlyphs">−60</text>
<line x1="971.8" y1="952.0" x2="971.8" y2="962.0" stroke="#222" stroke-width="1.3"/>
<text x="950.1" y="991.8" font-size="22" fill="#000" textLength="43.3" lengthAdjust="spacingAndGlyphs">−40</text>
<line x1="1087.7" y1="952.0" x2="1087.7" y2="962.0" stroke="#222" stroke-width="1.3"/>
<text x="1066.6" y="991.8" font-size="22" fill="#000" textLength="42.2" lengthAdjust="spacingAndGlyphs">−20</text>
<line x1="1203.0" y1="952.0" x2="1203.0" y2="962.0" stroke="#222" stroke-width="1.3"/>
<text x="1196.9" y="991.8" font-size="22" fill="#000">0</text>
<line x1="1318.9" y1="952.0" x2="1318.9" y2="962.0" stroke="#222" stroke-width="1.3"/>
<text x="1304.4" y="991.8" font-size="22" fill="#000" textLength="29.0" lengthAdjust="spacingAndGlyphs">20</text>
<text x="1053.3" y="1036.8" font-size="25.5" fill="#000" textLength="149.0" lengthAdjust="spacingAndGlyphs">PC1: 34.67%</text>
<text x="690.5" y="655.0" font-size="25.5" fill="#000" textLength="157.0" lengthAdjust="spacingAndGlyphs" transform="rotate(-90 769.0 655.0)">PC2: 26.79%</text>
<text x="84.5" y="1111.4" font-size="40" font-weight="bold" stroke="#000" stroke-width="0.9" stroke-linejoin="round" fill="#000">d</text>
<rect x="122.9" y="1159.6" width="344.8" height="191.2" fill="#fff" stroke="none" stroke-width="1"/>
<line x1="122.9" y1="1195.0" x2="467.7" y2="1195.0" stroke="#ebebeb" stroke-width="0.9"/>
<line x1="122.9" y1="1234.7" x2="467.7" y2="1234.7" stroke="#ebebeb" stroke-width="0.9"/>
<line x1="122.9" y1="1274.1" x2="467.7" y2="1274.1" stroke="#ebebeb" stroke-width="0.9"/>
<line x1="122.9" y1="1313.7" x2="467.7" y2="1313.7" stroke="#ebebeb" stroke-width="0.9"/>
<line x1="122.9" y1="1175.1" x2="467.7" y2="1175.1" stroke="#ebebeb" stroke-width="1.7"/>
<line x1="122.9" y1="1214.9" x2="467.7" y2="1214.9" stroke="#ebebeb" stroke-width="1.7"/>
<line x1="122.9" y1="1254.4" x2="467.7" y2="1254.4" stroke="#ebebeb" stroke-width="1.7"/>
<line x1="122.9" y1="1293.8" x2="467.7" y2="1293.8" stroke="#ebebeb" stroke-width="1.7"/>
<line x1="122.9" y1="1333.6" x2="467.7" y2="1333.6" stroke="#ebebeb" stroke-width="1.7"/>
<line x1="217.0" y1="1159.6" x2="217.0" y2="1350.8" stroke="#ebebeb" stroke-width="1.7"/>
<line x1="373.9" y1="1159.6" x2="373.9" y2="1350.8" stroke="#ebebeb" stroke-width="1.7"/>
<line x1="217.0" y1="1173.5" x2="217.0" y2="1223.0" stroke="#000" stroke-width="2"/>
<line x1="217.0" y1="1313.2" x2="217.0" y2="1339.4" stroke="#000" stroke-width="2"/>
<rect x="177.7" y="1223.0" width="78.6" height="90.2" fill="#8da0cb" stroke="#111" stroke-width="2.1" fill-opacity="0.3"/>
<line x1="177.7" y1="1270.2" x2="256.3" y2="1270.2" stroke="#333" stroke-width="3.6"/>
<circle cx="217.0" cy="1173.5" r="5.5" fill="#b8c3de" stroke="#000" stroke-width="1.3"/>
<circle cx="211.8" cy="1220.4" r="5.5" fill="#b8c3de" stroke="#000" stroke-width="1.3"/>
<circle cx="222.2" cy="1220.4" r="5.5" fill="#b8c3de" stroke="#000" stroke-width="1.3"/>
<circle cx="217.0" cy="1239.5" r="5.5" fill="#b8c3de" stroke="#000" stroke-width="1.3"/>
<circle cx="217.0" cy="1270.2" r="5.5" fill="#b8c3de" stroke="#000" stroke-width="1.3"/>
<circle cx="217.0" cy="1283.1" r="5.5" fill="#b8c3de" stroke="#000" stroke-width="1.3"/>
<circle cx="211.8" cy="1313.5" r="5.5" fill="#b8c3de" stroke="#000" stroke-width="1.3"/>
<circle cx="222.2" cy="1313.5" r="5.5" fill="#b8c3de" stroke="#000" stroke-width="1.3"/>
<circle cx="217.0" cy="1339.4" r="5.5" fill="#b8c3de" stroke="#000" stroke-width="1.3"/>
<line x1="373.9" y1="1171.0" x2="373.9" y2="1219.8" stroke="#000" stroke-width="2"/>
<line x1="373.9" y1="1310.3" x2="373.9" y2="1327.1" stroke="#000" stroke-width="2"/>
<rect x="334.6" y="1219.8" width="78.6" height="90.5" fill="#fd8d3c" stroke="#111" stroke-width="2.1" fill-opacity="0.3"/>
<line x1="334.6" y1="1279.0" x2="413.2" y2="1279.0" stroke="#333" stroke-width="3.6"/>
<circle cx="373.9" cy="1170.9" r="5.5" fill="#fdb46d" stroke="#000" stroke-width="1.3"/>
<circle cx="373.9" cy="1188.1" r="5.5" fill="#fdb46d" stroke="#000" stroke-width="1.3"/>
<circle cx="373.9" cy="1219.8" r="5.5" fill="#fdb46d" stroke="#000" stroke-width="1.3"/>
<circle cx="373.9" cy="1251.1" r="5.5" fill="#fdb46d" stroke="#000" stroke-width="1.3"/>
<circle cx="368.7" cy="1280.9" r="5.5" fill="#fdb46d" stroke="#000" stroke-width="1.3"/>
<circle cx="379.1" cy="1280.9" r="5.5" fill="#fdb46d" stroke="#000" stroke-width="1.3"/>
<circle cx="373.9" cy="1310.3" r="5.5" fill="#fdb46d" stroke="#000" stroke-width="1.3"/>
<circle cx="368.7" cy="1327.1" r="5.5" fill="#fdb46d" stroke="#000" stroke-width="1.3"/>
<circle cx="379.1" cy="1327.1" r="5.5" fill="#fdb46d" stroke="#000" stroke-width="1.3"/>
<rect x="122.9" y="1159.6" width="344.8" height="191.2" fill="none" stroke="#333" stroke-width="1.2"/>
<rect x="86.0" y="1159.6" width="36.9" height="191.2" fill="#d9d9d9" stroke="#333" stroke-width="1.2"/>
<text x="80.9" y="1255.2" font-size="24" fill="#000" textLength="63.3" lengthAdjust="spacingAndGlyphs" transform="rotate(-90 112.6 1255.2)">Chao1</text>
<line x1="77.0" y1="1175.1" x2="86.0" y2="1175.1" stroke="#333" stroke-width="1.2"/>
<text x="19.8" y="1182.7" font-size="22" fill="#000" textLength="44.2" lengthAdjust="spacingAndGlyphs">200</text>
<line x1="77.0" y1="1214.9" x2="86.0" y2="1214.9" stroke="#333" stroke-width="1.2"/>
<text x="22.9" y="1222.5" font-size="22" fill="#000" textLength="41.1" lengthAdjust="spacingAndGlyphs">180</text>
<line x1="77.0" y1="1254.4" x2="86.0" y2="1254.4" stroke="#333" stroke-width="1.2"/>
<text x="22.9" y="1262.0" font-size="22" fill="#000" textLength="41.1" lengthAdjust="spacingAndGlyphs">160</text>
<line x1="77.0" y1="1293.8" x2="86.0" y2="1293.8" stroke="#333" stroke-width="1.2"/>
<text x="22.4" y="1301.4" font-size="22" fill="#000" textLength="41.6" lengthAdjust="spacingAndGlyphs">140</text>
<line x1="77.0" y1="1333.6" x2="86.0" y2="1333.6" stroke="#333" stroke-width="1.2"/>
<text x="23.5" y="1341.2" font-size="22" fill="#000" textLength="40.5" lengthAdjust="spacingAndGlyphs">120</text>
<rect x="122.9" y="1361.0" width="344.8" height="191.2" fill="#fff" stroke="none" stroke-width="1"/>
<line x1="122.9" y1="1374.3" x2="467.7" y2="1374.3" stroke="#ebebeb" stroke-width="0.9"/>
<line x1="122.9" y1="1424.0" x2="467.7" y2="1424.0" stroke="#ebebeb" stroke-width="0.9"/>
<line x1="122.9" y1="1473.9" x2="467.7" y2="1473.9" stroke="#ebebeb" stroke-width="0.9"/>
<line x1="122.9" y1="1524.1" x2="467.7" y2="1524.1" stroke="#ebebeb" stroke-width="0.9"/>
<line x1="122.9" y1="1399.3" x2="467.7" y2="1399.3" stroke="#ebebeb" stroke-width="1.7"/>
<line x1="122.9" y1="1448.6" x2="467.7" y2="1448.6" stroke="#ebebeb" stroke-width="1.7"/>
<line x1="122.9" y1="1498.9" x2="467.7" y2="1498.9" stroke="#ebebeb" stroke-width="1.7"/>
<line x1="122.9" y1="1549.3" x2="467.7" y2="1549.3" stroke="#ebebeb" stroke-width="1.7"/>
<line x1="217.0" y1="1361.0" x2="217.0" y2="1552.2" stroke="#ebebeb" stroke-width="1.7"/>
<line x1="373.9" y1="1361.0" x2="373.9" y2="1552.2" stroke="#ebebeb" stroke-width="1.7"/>
<line x1="217.0" y1="1372.7" x2="217.0" y2="1396.0" stroke="#000" stroke-width="2"/>
<line x1="217.0" y1="1449.8" x2="217.0" y2="1466.5" stroke="#000" stroke-width="2"/>
<rect x="177.7" y="1396.0" width="78.6" height="53.8" fill="#8da0cb" stroke="#111" stroke-width="2.1" fill-opacity="0.3"/>
<line x1="177.7" y1="1415.1" x2="256.3" y2="1415.1" stroke="#333" stroke-width="3.6"/>
<circle cx="211.8" cy="1372.7" r="5.5" fill="#b8c3de" stroke="#000" stroke-width="1.3"/>
<circle cx="222.2" cy="1372.7" r="5.5" fill="#b8c3de" stroke="#000" stroke-width="1.3"/>
<circle cx="217.0" cy="1396.0" r="5.5" fill="#b8c3de" stroke="#000" stroke-width="1.3"/>
<circle cx="211.8" cy="1414.5" r="5.5" fill="#b8c3de" stroke="#000" stroke-width="1.3"/>
<circle cx="222.2" cy="1414.5" r="5.5" fill="#b8c3de" stroke="#000" stroke-width="1.3"/>
<circle cx="206.2" cy="1448.5" r="5.5" fill="#b8c3de" stroke="#000" stroke-width="1.3"/>
<circle cx="217.0" cy="1448.5" r="5.5" fill="#b8c3de" stroke="#000" stroke-width="1.3"/>
<circle cx="227.8" cy="1448.5" r="5.5" fill="#b8c3de" stroke="#000" stroke-width="1.3"/>
<circle cx="217.0" cy="1466.5" r="5.5" fill="#b8c3de" stroke="#000" stroke-width="1.3"/>
<line x1="373.9" y1="1399.3" x2="373.9" y2="1424.2" stroke="#000" stroke-width="2"/>
<line x1="373.9" y1="1483.7" x2="373.9" y2="1540.9" stroke="#000" stroke-width="2"/>
<rect x="334.6" y="1424.2" width="78.6" height="59.5" fill="#fd8d3c" stroke="#111" stroke-width="2.1" fill-opacity="0.3"/>
<line x1="334.6" y1="1447.3" x2="413.2" y2="1447.3" stroke="#333" stroke-width="3.6"/>
<circle cx="373.9" cy="1399.3" r="5.5" fill="#fdb46d" stroke="#000" stroke-width="1.3"/>
<circle cx="363.1" cy="1425.8" r="5.5" fill="#fdb46d" stroke="#000" stroke-width="1.3"/>
<circle cx="373.9" cy="1425.8" r="5.5" fill="#fdb46d" stroke="#000" stroke-width="1.3"/>
<circle cx="384.7" cy="1425.8" r="5.5" fill="#fdb46d" stroke="#000" stroke-width="1.3"/>
<circle cx="368.7" cy="1449.1" r="5.5" fill="#fdb46d" stroke="#000" stroke-width="1.3"/>
<circle cx="379.1" cy="1449.1" r="5.5" fill="#fdb46d" stroke="#000" stroke-width="1.3"/>
<circle cx="373.9" cy="1483.7" r="5.5" fill="#fdb46d" stroke="#000" stroke-width="1.3"/>
<circle cx="373.9" cy="1529.6" r="5.5" fill="#fdb46d" stroke="#000" stroke-width="1.3"/>
<circle cx="373.9" cy="1540.9" r="5.5" fill="#fdb46d" stroke="#000" stroke-width="1.3"/>
<rect x="122.9" y="1361.0" width="344.8" height="191.2" fill="none" stroke="#333" stroke-width="1.2"/>
<rect x="86.0" y="1361.0" width="36.9" height="191.2" fill="#d9d9d9" stroke="#333" stroke-width="1.2"/>
<text x="21.0" y="1456.6" font-size="24" fill="#000" textLength="183.2" lengthAdjust="spacingAndGlyphs" transform="rotate(-90 112.6 1456.6)">Shannon entropy</text>
<line x1="77.0" y1="1399.3" x2="86.0" y2="1399.3" stroke="#333" stroke-width="1.2"/>
<text x="29.7" y="1406.9" font-size="22" fill="#000" textLength="34.3" lengthAdjust="spacingAndGlyphs">3.9</text>
<line x1="77.0" y1="1448.6" x2="86.0" y2="1448.6" stroke="#333" stroke-width="1.2"/>
<text x="29.7" y="1456.2" font-size="22" fill="#000" textLength="34.3" lengthAdjust="spacingAndGlyphs">3.6</text>
<line x1="77.0" y1="1498.9" x2="86.0" y2="1498.9" stroke="#333" stroke-width="1.2"/>
<text x="30.1" y="1506.5" font-size="22" fill="#000" textLength="33.9" lengthAdjust="spacingAndGlyphs">3.3</text>
<line x1="77.0" y1="1549.3" x2="86.0" y2="1549.3" stroke="#333" stroke-width="1.2"/>
<text x="29.0" y="1556.9" font-size="22" fill="#000" textLength="35.0" lengthAdjust="spacingAndGlyphs">3.0</text>
<rect x="122.9" y="1562.3" width="344.8" height="191.4" fill="#fff" stroke="none" stroke-width="1"/>
<line x1="122.9" y1="1567.2" x2="467.7" y2="1567.2" stroke="#ebebeb" stroke-width="0.9"/>
<line x1="122.9" y1="1589.3" x2="467.7" y2="1589.3" stroke="#ebebeb" stroke-width="0.9"/>
<line x1="122.9" y1="1633.4" x2="467.7" y2="1633.4" stroke="#ebebeb" stroke-width="0.9"/>
<line x1="122.9" y1="1677.4" x2="467.7" y2="1677.4" stroke="#ebebeb" stroke-width="0.9"/>
<line x1="122.9" y1="1721.7" x2="467.7" y2="1721.7" stroke="#ebebeb" stroke-width="0.9"/>
<line x1="122.9" y1="1611.4" x2="467.7" y2="1611.4" stroke="#ebebeb" stroke-width="1.7"/>
<line x1="122.9" y1="1655.4" x2="467.7" y2="1655.4" stroke="#ebebeb" stroke-width="1.7"/>
<line x1="122.9" y1="1699.4" x2="467.7" y2="1699.4" stroke="#ebebeb" stroke-width="1.7"/>
<line x1="122.9" y1="1744.0" x2="467.7" y2="1744.0" stroke="#ebebeb" stroke-width="1.7"/>
<line x1="217.0" y1="1562.3" x2="217.0" y2="1753.7" stroke="#ebebeb" stroke-width="1.7"/>
<line x1="373.9" y1="1562.3" x2="373.9" y2="1753.7" stroke="#ebebeb" stroke-width="1.7"/>
<line x1="217.0" y1="1573.6" x2="217.0" y2="1594.0" stroke="#000" stroke-width="2"/>
<line x1="217.0" y1="1630.8" x2="217.0" y2="1649.3" stroke="#000" stroke-width="2"/>
<rect x="177.7" y="1594.0" width="78.6" height="36.8" fill="#8da0cb" stroke="#111" stroke-width="2.1" fill-opacity="0.3"/>
<line x1="177.7" y1="1622.1" x2="256.3" y2="1622.1" stroke="#333" stroke-width="3.6"/>
<circle cx="211.8" cy="1573.6" r="5.5" fill="#b8c3de" stroke="#000" stroke-width="1.3"/>
<circle cx="222.2" cy="1573.6" r="5.5" fill="#b8c3de" stroke="#000" stroke-width="1.3"/>
<circle cx="211.8" cy="1595.9" r="5.5" fill="#b8c3de" stroke="#000" stroke-width="1.3"/>
<circle cx="222.2" cy="1595.9" r="5.5" fill="#b8c3de" stroke="#000" stroke-width="1.3"/>
<circle cx="217.0" cy="1622.1" r="5.5" fill="#b8c3de" stroke="#000" stroke-width="1.3"/>
<circle cx="211.8" cy="1628.2" r="5.5" fill="#b8c3de" stroke="#000" stroke-width="1.3"/>
<circle cx="222.2" cy="1628.2" r="5.5" fill="#b8c3de" stroke="#000" stroke-width="1.3"/>
<circle cx="217.0" cy="1640.2" r="5.5" fill="#b8c3de" stroke="#000" stroke-width="1.3"/>
<circle cx="217.0" cy="1649.3" r="5.5" fill="#b8c3de" stroke="#000" stroke-width="1.3"/>
<line x1="373.9" y1="1601.7" x2="373.9" y2="1606.6" stroke="#000" stroke-width="2"/>
<line x1="373.9" y1="1662.5" x2="373.9" y2="1742.4" stroke="#000" stroke-width="2"/>
<rect x="334.6" y="1606.6" width="78.6" height="55.9" fill="#fd8d3c" stroke="#111" stroke-width="2.1" fill-opacity="0.3"/>
<line x1="334.6" y1="1624.0" x2="413.2" y2="1624.0" stroke="#333" stroke-width="3.6"/>
<circle cx="368.7" cy="1601.7" r="5.5" fill="#fdb46d" stroke="#000" stroke-width="1.3"/>
<circle cx="379.1" cy="1601.7" r="5.5" fill="#fdb46d" stroke="#000" stroke-width="1.3"/>
<circle cx="368.7" cy="1608.8" r="5.5" fill="#fdb46d" stroke="#000" stroke-width="1.3"/>
<circle cx="379.1" cy="1608.8" r="5.5" fill="#fdb46d" stroke="#000" stroke-width="1.3"/>
<circle cx="373.9" cy="1624.4" r="5.5" fill="#fdb46d" stroke="#000" stroke-width="1.3"/>
<circle cx="373.9" cy="1655.7" r="5.5" fill="#fdb46d" stroke="#000" stroke-width="1.3"/>
<circle cx="373.9" cy="1662.5" r="5.5" fill="#fdb46d" stroke="#000" stroke-width="1.3"/>
<circle cx="373.9" cy="1692.9" r="5.5" fill="#fdb46d" stroke="#000" stroke-width="1.3"/>
<circle cx="373.9" cy="1742.4" r="5.5" fill="#fdb46d" stroke="#000" stroke-width="1.3"/>
<rect x="122.9" y="1562.3" width="344.8" height="191.4" fill="none" stroke="#333" stroke-width="1.2"/>
<rect x="86.0" y="1562.3" width="36.9" height="191.4" fill="#d9d9d9" stroke="#333" stroke-width="1.2"/>
<text x="34.1" y="1658.0" font-size="24" fill="#000" textLength="157.0" lengthAdjust="spacingAndGlyphs" transform="rotate(-90 112.6 1658.0)">Simpson index</text>
<line x1="77.0" y1="1611.4" x2="86.0" y2="1611.4" stroke="#333" stroke-width="1.2"/>
<text x="-0.7" y="1619.0" font-size="22" fill="#000" textLength="64.7" lengthAdjust="spacingAndGlyphs">0.950</text>
<line x1="77.0" y1="1655.4" x2="86.0" y2="1655.4" stroke="#333" stroke-width="1.2"/>
<text x="0.6" y="1663.0" font-size="22" fill="#000" textLength="63.4" lengthAdjust="spacingAndGlyphs">0.925</text>
<line x1="77.0" y1="1699.4" x2="86.0" y2="1699.4" stroke="#333" stroke-width="1.2"/>
<text x="-1.8" y="1707.0" font-size="22" fill="#000" textLength="65.8" lengthAdjust="spacingAndGlyphs">0.900</text>
<line x1="77.0" y1="1744.0" x2="86.0" y2="1744.0" stroke="#333" stroke-width="1.2"/>
<text x="1.7" y="1751.6" font-size="22" fill="#000" textLength="62.3" lengthAdjust="spacingAndGlyphs">0.875</text>
<rect x="122.9" y="1122.4" width="344.8" height="37.2" fill="#d9d9d9" stroke="#333" stroke-width="1.2"/>
<text x="233.8" y="1148.6" font-size="21.5" fill="#000" textLength="123.0" lengthAdjust="spacingAndGlyphs">Bacteriome</text>
<line x1="217.0" y1="1753.7" x2="217.0" y2="1763.4" stroke="#333" stroke-width="1.2"/>
<text x="201.5" y="1791.6" font-size="21.5" fill="#000" textLength="31.0" lengthAdjust="spacingAndGlyphs">Ctr</text>
<line x1="373.9" y1="1753.7" x2="373.9" y2="1763.4" stroke="#333" stroke-width="1.2"/>
<text x="341.9" y="1791.6" font-size="21.5" fill="#000" textLength="64.0" lengthAdjust="spacingAndGlyphs">Stress</text>
<text x="231.8" y="1835.2" font-size="25" fill="#000" textLength="127.0" lengthAdjust="spacingAndGlyphs">Treatment</text>
<text x="571.6" y="1112.0" font-size="40" font-weight="bold" stroke="#000" stroke-width="0.9" stroke-linejoin="round" fill="#000">e</text>
<rect x="610.4" y="1159.6" width="345.5" height="191.2" fill="#fff" stroke="none" stroke-width="1"/>
<line x1="610.4" y1="1195.8" x2="955.9" y2="1195.8" stroke="#ebebeb" stroke-width="0.9"/>
<line x1="610.4" y1="1264.3" x2="955.9" y2="1264.3" stroke="#ebebeb" stroke-width="0.9"/>
<line x1="610.4" y1="1332.6" x2="955.9" y2="1332.6" stroke="#ebebeb" stroke-width="0.9"/>
<line x1="610.4" y1="1161.5" x2="955.9" y2="1161.5" stroke="#ebebeb" stroke-width="1.7"/>
<line x1="610.4" y1="1230.1" x2="955.9" y2="1230.1" stroke="#ebebeb" stroke-width="1.7"/>
<line x1="610.4" y1="1298.4" x2="955.9" y2="1298.4" stroke="#ebebeb" stroke-width="1.7"/>
<line x1="704.8" y1="1159.6" x2="704.8" y2="1350.8" stroke="#ebebeb" stroke-width="1.7"/>
<line x1="861.7" y1="1159.6" x2="861.7" y2="1350.8" stroke="#ebebeb" stroke-width="1.7"/>
<line x1="704.8" y1="1170.9" x2="704.8" y2="1234.3" stroke="#000" stroke-width="2"/>
<line x1="704.8" y1="1318.4" x2="704.8" y2="1339.4" stroke="#000" stroke-width="2"/>
<rect x="665.5" y="1234.3" width="78.6" height="84.1" fill="#8da0cb" stroke="#111" stroke-width="2.1" fill-opacity="0.3"/>
<line x1="665.5" y1="1298.0" x2="744.1" y2="1298.0" stroke="#333" stroke-width="3.6"/>
<circle cx="704.8" cy="1170.9" r="5.5" fill="#b8c3de" stroke="#000" stroke-width="1.3"/>
<circle cx="704.8" cy="1298.0" r="5.5" fill="#b8c3de" stroke="#000" stroke-width="1.3"/>
<circle cx="704.8" cy="1339.4" r="5.5" fill="#b8c3de" stroke="#000" stroke-width="1.3"/>
<line x1="861.7" y1="1231.4" x2="861.7" y2="1245.0" stroke="#000" stroke-width="2"/>
<line x1="861.7" y1="1274.7" x2="861.7" y2="1292.2" stroke="#000" stroke-width="2"/>
<rect x="822.4" y="1245.0" width="78.6" height="29.7" fill="#fd8d3c" stroke="#111" stroke-width="2.1" fill-opacity="0.3"/>
<line x1="822.4" y1="1257.9" x2="901.0" y2="1257.9" stroke="#333" stroke-width="3.6"/>
<circle cx="861.7" cy="1231.4" r="5.5" fill="#fdb46d" stroke="#000" stroke-width="1.3"/>
<circle cx="861.7" cy="1257.9" r="5.5" fill="#fdb46d" stroke="#000" stroke-width="1.3"/>
<circle cx="861.7" cy="1292.2" r="5.5" fill="#fdb46d" stroke="#000" stroke-width="1.3"/>
<rect x="610.4" y="1159.6" width="345.5" height="191.2" fill="none" stroke="#333" stroke-width="1.2"/>
<rect x="573.8" y="1159.6" width="36.6" height="191.2" fill="#d9d9d9" stroke="#333" stroke-width="1.2"/>
<text x="568.8" y="1255.2" font-size="24" fill="#000" textLength="63.3" lengthAdjust="spacingAndGlyphs" transform="rotate(-90 600.4 1255.2)">Chao1</text>
<line x1="564.0" y1="1161.5" x2="573.8" y2="1161.5" stroke="#333" stroke-width="1.2"/>
<text x="506.2" y="1169.1" font-size="22" fill="#000" textLength="45.3" lengthAdjust="spacingAndGlyphs">400</text>
<line x1="564.0" y1="1230.1" x2="573.8" y2="1230.1" stroke="#333" stroke-width="1.2"/>
<text x="507.1" y="1237.7" font-size="22" fill="#000" textLength="44.4" lengthAdjust="spacingAndGlyphs">300</text>
<line x1="564.0" y1="1298.4" x2="573.8" y2="1298.4" stroke="#333" stroke-width="1.2"/>
<text x="507.3" y="1306.0" font-size="22" fill="#000" textLength="44.2" lengthAdjust="spacingAndGlyphs">200</text>
<rect x="610.4" y="1361.0" width="345.5" height="191.2" fill="#fff" stroke="none" stroke-width="1"/>
<line x1="610.4" y1="1371.8" x2="955.9" y2="1371.8" stroke="#ebebeb" stroke-width="0.9"/>
<line x1="610.4" y1="1429.4" x2="955.9" y2="1429.4" stroke="#ebebeb" stroke-width="0.9"/>
<line x1="610.4" y1="1487.1" x2="955.9" y2="1487.1" stroke="#ebebeb" stroke-width="0.9"/>
<line x1="610.4" y1="1544.8" x2="955.9" y2="1544.8" stroke="#ebebeb" stroke-width="0.9"/>
<line x1="610.4" y1="1400.6" x2="955.9" y2="1400.6" stroke="#ebebeb" stroke-width="1.7"/>
<line x1="610.4" y1="1458.2" x2="955.9" y2="1458.2" stroke="#ebebeb" stroke-width="1.7"/>
<line x1="610.4" y1="1516.0" x2="955.9" y2="1516.0" stroke="#ebebeb" stroke-width="1.7"/>
<line x1="704.8" y1="1361.0" x2="704.8" y2="1552.2" stroke="#ebebeb" stroke-width="1.7"/>
<line x1="861.7" y1="1361.0" x2="861.7" y2="1552.2" stroke="#ebebeb" stroke-width="1.7"/>
<line x1="704.8" y1="1372.7" x2="704.8" y2="1418.3" stroke="#000" stroke-width="2"/>
<line x1="704.8" y1="1501.8" x2="704.8" y2="1540.6" stroke="#000" stroke-width="2"/>
<rect x="665.5" y="1418.3" width="78.6" height="83.5" fill="#8da0cb" stroke="#111" stroke-width="2.1" fill-opacity="0.3"/>
<line x1="665.5" y1="1463.6" x2="744.1" y2="1463.6" stroke="#333" stroke-width="3.6"/>
<circle cx="704.8" cy="1372.7" r="5.5" fill="#b8c3de" stroke="#000" stroke-width="1.3"/>
<circle cx="704.8" cy="1463.6" r="5.5" fill="#b8c3de" stroke="#000" stroke-width="1.3"/>
<circle cx="704.8" cy="1540.6" r="5.5" fill="#b8c3de" stroke="#000" stroke-width="1.3"/>
<line x1="861.7" y1="1414.5" x2="861.7" y2="1414.5" stroke="#000" stroke-width="2"/>
<line x1="861.7" y1="1451.7" x2="861.7" y2="1488.2" stroke="#000" stroke-width="2"/>
<rect x="822.4" y="1414.5" width="78.6" height="37.2" fill="#fd8d3c" stroke="#111" stroke-width="2.1" fill-opacity="0.3"/>
<line x1="822.4" y1="1415.6" x2="901.0" y2="1415.6" stroke="#333" stroke-width="3.6"/>
<circle cx="855.9" cy="1414.5" r="5.5" fill="#fdb46d" stroke="#000" stroke-width="1.3"/>
<circle cx="867.3" cy="1414.5" r="5.5" fill="#fdb46d" stroke="#000" stroke-width="1.3"/>
<circle cx="861.7" cy="1488.2" r="5.5" fill="#fdb46d" stroke="#000" stroke-width="1.3"/>
<rect x="610.4" y="1361.0" width="345.5" height="191.2" fill="none" stroke="#333" stroke-width="1.2"/>
<rect x="573.8" y="1361.0" width="36.6" height="191.2" fill="#d9d9d9" stroke="#333" stroke-width="1.2"/>
<text x="508.8" y="1456.6" font-size="24" fill="#000" textLength="183.2" lengthAdjust="spacingAndGlyphs" transform="rotate(-90 600.4 1456.6)">Shannon entropy</text>
<line x1="564.0" y1="1400.6" x2="573.8" y2="1400.6" stroke="#333" stroke-width="1.2"/>
<text x="517.6" y="1408.2" font-size="22" fill="#000" textLength="33.9" lengthAdjust="spacingAndGlyphs">3.5</text>
<line x1="564.0" y1="1458.2" x2="573.8" y2="1458.2" stroke="#333" stroke-width="1.2"/>
<text x="516.5" y="1465.8" font-size="22" fill="#000" textLength="35.0" lengthAdjust="spacingAndGlyphs">3.0</text>
<line x1="564.0" y1="1516.0" x2="573.8" y2="1516.0" stroke="#333" stroke-width="1.2"/>
<text x="517.8" y="1523.6" font-size="22" fill="#000" textLength="33.7" lengthAdjust="spacingAndGlyphs">2.5</text>
<rect x="610.4" y="1562.3" width="345.5" height="191.4" fill="#fff" stroke="none" stroke-width="1"/>
<line x1="610.4" y1="1567.9" x2="955.9" y2="1567.9" stroke="#ebebeb" stroke-width="0.9"/>
<line x1="610.4" y1="1616.1" x2="955.9" y2="1616.1" stroke="#ebebeb" stroke-width="0.9"/>
<line x1="610.4" y1="1664.2" x2="955.9" y2="1664.2" stroke="#ebebeb" stroke-width="0.9"/>
<line x1="610.4" y1="1712.2" x2="955.9" y2="1712.2" stroke="#ebebeb" stroke-width="0.9"/>
<line x1="610.4" y1="1592.0" x2="955.9" y2="1592.0" stroke="#ebebeb" stroke-width="1.7"/>
<line x1="610.4" y1="1640.2" x2="955.9" y2="1640.2" stroke="#ebebeb" stroke-width="1.7"/>
<line x1="610.4" y1="1688.1" x2="955.9" y2="1688.1" stroke="#ebebeb" stroke-width="1.7"/>
<line x1="610.4" y1="1736.3" x2="955.9" y2="1736.3" stroke="#ebebeb" stroke-width="1.7"/>
<line x1="704.8" y1="1562.3" x2="704.8" y2="1753.7" stroke="#ebebeb" stroke-width="1.7"/>
<line x1="861.7" y1="1562.3" x2="861.7" y2="1753.7" stroke="#ebebeb" stroke-width="1.7"/>
<line x1="704.8" y1="1591.0" x2="704.8" y2="1610.1" stroke="#000" stroke-width="2"/>
<line x1="704.8" y1="1686.1" x2="704.8" y2="1742.1" stroke="#000" stroke-width="2"/>
<rect x="665.5" y="1610.1" width="78.6" height="76.0" fill="#8da0cb" stroke="#111" stroke-width="2.1" fill-opacity="0.3"/>
<line x1="665.5" y1="1629.5" x2="744.1" y2="1629.5" stroke="#333" stroke-width="3.6"/>
<circle cx="704.8" cy="1591.0" r="5.5" fill="#b8c3de" stroke="#000" stroke-width="1.3"/>
<circle cx="704.8" cy="1629.5" r="5.5" fill="#b8c3de" stroke="#000" stroke-width="1.3"/>
<circle cx="704.8" cy="1742.1" r="5.5" fill="#b8c3de" stroke="#000" stroke-width="1.3"/>
<line x1="861.7" y1="1573.6" x2="861.7" y2="1586.5" stroke="#000" stroke-width="2"/>
<line x1="861.7" y1="1627.0" x2="861.7" y2="1655.7" stroke="#000" stroke-width="2"/>
<rect x="822.4" y="1586.5" width="78.6" height="40.5" fill="#fd8d3c" stroke="#111" stroke-width="2.1" fill-opacity="0.3"/>
<line x1="822.4" y1="1598.8" x2="901.0" y2="1598.8" stroke="#333" stroke-width="3.6"/>
<circle cx="861.7" cy="1573.6" r="5.5" fill="#fdb46d" stroke="#000" stroke-width="1.3"/>
<circle cx="861.7" cy="1598.8" r="5.5" fill="#fdb46d" stroke="#000" stroke-width="1.3"/>
<circle cx="861.7" cy="1655.7" r="5.5" fill="#fdb46d" stroke="#000" stroke-width="1.3"/>
<rect x="610.4" y="1562.3" width="345.5" height="191.4" fill="none" stroke="#333" stroke-width="1.2"/>
<rect x="573.8" y="1562.3" width="36.6" height="191.4" fill="#d9d9d9" stroke="#333" stroke-width="1.2"/>
<text x="521.9" y="1658.0" font-size="24" fill="#000" textLength="157.0" lengthAdjust="spacingAndGlyphs" transform="rotate(-90 600.4 1658.0)">Simpson index</text>
<line x1="564.0" y1="1592.0" x2="573.8" y2="1592.0" stroke="#333" stroke-width="1.2"/>
<text x="500.9" y="1599.6" font-size="22" fill="#000" textLength="50.6" lengthAdjust="spacingAndGlyphs">0.90</text>
<line x1="564.0" y1="1640.2" x2="573.8" y2="1640.2" stroke="#333" stroke-width="1.2"/>
<text x="502.0" y="1647.8" font-size="22" fill="#000" textLength="49.5" lengthAdjust="spacingAndGlyphs">0.85</text>
<line x1="564.0" y1="1688.1" x2="573.8" y2="1688.1" stroke="#333" stroke-width="1.2"/>
<text x="500.9" y="1695.7" font-size="22" fill="#000" textLength="50.6" lengthAdjust="spacingAndGlyphs">0.80</text>
<line x1="564.0" y1="1736.3" x2="573.8" y2="1736.3" stroke="#333" stroke-width="1.2"/>
<text x="503.8" y="1743.9" font-size="22" fill="#000" textLength="47.7" lengthAdjust="spacingAndGlyphs">0.75</text>
<rect x="610.4" y="1122.4" width="345.5" height="37.2" fill="#d9d9d9" stroke="#333" stroke-width="1.2"/>
<text x="745.1" y="1148.6" font-size="21.5" fill="#000" textLength="76.0" lengthAdjust="spacingAndGlyphs">Virome</text>
<line x1="704.8" y1="1753.7" x2="704.8" y2="1763.4" stroke="#333" stroke-width="1.2"/>
<text x="689.3" y="1791.6" font-size="21.5" fill="#000" textLength="31.0" lengthAdjust="spacingAndGlyphs">Ctr</text>
<line x1="861.7" y1="1753.7" x2="861.7" y2="1763.4" stroke="#333" stroke-width="1.2"/>
<text x="829.7" y="1791.6" font-size="21.5" fill="#000" textLength="64.0" lengthAdjust="spacingAndGlyphs">Stress</text>
<text x="719.6" y="1835.2" font-size="25" fill="#000" textLength="127.0" lengthAdjust="spacingAndGlyphs">Treatment</text>
<line x1="564.0" y1="1161.5" x2="573.8" y2="1161.5" stroke="#333" stroke-width="1.2"/>
<text x="964.2" y="1110.4" font-size="39" font-weight="bold" stroke="#000" stroke-width="0.9" stroke-linejoin="round" fill="#000">f</text>
<rect x="965.4" y="1161.2" width="364.8" height="592.8" fill="#fff" stroke="none" stroke-width="1"/>
<line x1="1037.0" y1="1161.2" x2="1037.0" y2="1754.0" stroke="#ebebeb" stroke-width="0.9"/>
<line x1="1125.3" y1="1161.2" x2="1125.3" y2="1754.0" stroke="#ebebeb" stroke-width="0.9"/>
<line x1="1213.6" y1="1161.2" x2="1213.6" y2="1754.0" stroke="#ebebeb" stroke-width="0.9"/>
<line x1="1301.9" y1="1161.2" x2="1301.9" y2="1754.0" stroke="#ebebeb" stroke-width="0.9"/>
<line x1="992.9" y1="1161.2" x2="992.9" y2="1754.0" stroke="#ebebeb" stroke-width="1.7"/>
<line x1="1081.2" y1="1161.2" x2="1081.2" y2="1754.0" stroke="#ebebeb" stroke-width="1.7"/>
<line x1="1169.5" y1="1161.2" x2="1169.5" y2="1754.0" stroke="#ebebeb" stroke-width="1.7"/>
<line x1="1257.7" y1="1161.2" x2="1257.7" y2="1754.0" stroke="#ebebeb" stroke-width="1.7"/>
<line x1="965.4" y1="1190.8" x2="1330.2" y2="1190.8" stroke="#ebebeb" stroke-width="1.7"/>
<line x1="965.4" y1="1239.1" x2="1330.2" y2="1239.1" stroke="#ebebeb" stroke-width="1.7"/>
<line x1="965.4" y1="1287.8" x2="1330.2" y2="1287.8" stroke="#ebebeb" stroke-width="1.7"/>
<line x1="965.4" y1="1336.5" x2="1330.2" y2="1336.5" stroke="#ebebeb" stroke-width="1.7"/>
<line x1="965.4" y1="1385.2" x2="1330.2" y2="1385.2" stroke="#ebebeb" stroke-width="1.7"/>
<line x1="965.4" y1="1433.6" x2="1330.2" y2="1433.6" stroke="#ebebeb" stroke-width="1.7"/>
<line x1="965.4" y1="1482.1" x2="1330.2" y2="1482.1" stroke="#ebebeb" stroke-width="1.7"/>
<line x1="965.4" y1="1530.8" x2="1330.2" y2="1530.8" stroke="#ebebeb" stroke-width="1.7"/>
<line x1="965.4" y1="1579.1" x2="1330.2" y2="1579.1" stroke="#ebebeb" stroke-width="1.7"/>
<line x1="965.4" y1="1627.8" x2="1330.2" y2="1627.8" stroke="#ebebeb" stroke-width="1.7"/>
<line x1="965.4" y1="1676.5" x2="1330.2" y2="1676.5" stroke="#ebebeb" stroke-width="1.7"/>
<line x1="965.4" y1="1725.3" x2="1330.2" y2="1725.3" stroke="#ebebeb" stroke-width="1.7"/>
<line x1="1169.5" y1="1161.2" x2="1169.5" y2="1754.0" stroke="#ff0000" stroke-width="2.3" stroke-dasharray="8 8.3" stroke-dashoffset="1.5"/>
<line x1="1024.5" y1="1190.8" x2="1100.3" y2="1190.8" stroke="#000" stroke-width="2.1"/>
<line x1="1024.5" y1="1178.6" x2="1024.5" y2="1203.0" stroke="#000" stroke-width="2.1"/>
<line x1="1100.3" y1="1178.6" x2="1100.3" y2="1203.0" stroke="#000" stroke-width="2.1"/>
<circle cx="1062.4" cy="1190.8" r="4.0" fill="#f0776b" stroke="#000" stroke-width="1.1"/>
<line x1="1330.2" y1="1190.8" x2="1339.8" y2="1190.8" stroke="#333" stroke-width="1.2"/>
<text x="1352.3" y="1198.3" font-size="21.5" font-style="italic" fill="#000" textLength="157.0" lengthAdjust="spacingAndGlyphs">Caudoviricetes</text>
<text x="1516.8" y="1198.3" font-size="21.5" fill="#000">1</text>
<line x1="1055.4" y1="1239.1" x2="1132.8" y2="1239.1" stroke="#000" stroke-width="2.1"/>
<line x1="1055.4" y1="1226.9" x2="1055.4" y2="1251.3" stroke="#000" stroke-width="2.1"/>
<line x1="1132.8" y1="1226.9" x2="1132.8" y2="1251.3" stroke="#000" stroke-width="2.1"/>
<circle cx="1094.1" cy="1239.1" r="4.0" fill="#f0776b" stroke="#000" stroke-width="1.1"/>
<line x1="1330.2" y1="1239.1" x2="1339.8" y2="1239.1" stroke="#333" stroke-width="1.2"/>
<text x="1352.3" y="1246.6" font-size="21.5" font-style="italic" fill="#000" textLength="157.0" lengthAdjust="spacingAndGlyphs">Caudoviricetes</text>
<text x="1516.8" y="1246.6" font-size="21.5" fill="#000" textLength="42.1" lengthAdjust="spacingAndGlyphs">589</text>
<line x1="982.1" y1="1287.8" x2="1010.8" y2="1287.8" stroke="#000" stroke-width="2.1"/>
<line x1="982.1" y1="1275.6" x2="982.1" y2="1300.0" stroke="#000" stroke-width="2.1"/>
<line x1="1010.8" y1="1275.6" x2="1010.8" y2="1300.0" stroke="#000" stroke-width="2.1"/>
<circle cx="996.2" cy="1287.8" r="4.0" fill="#f0776b" stroke="#000" stroke-width="1.1"/>
<line x1="1330.2" y1="1287.8" x2="1339.8" y2="1287.8" stroke="#333" stroke-width="1.2"/>
<text x="1352.3" y="1295.3" font-size="21.5" font-style="italic" fill="#000" textLength="157.0" lengthAdjust="spacingAndGlyphs">Caudoviricetes</text>
<text x="1516.8" y="1295.3" font-size="21.5" fill="#000" textLength="39.8" lengthAdjust="spacingAndGlyphs">707</text>
<line x1="1232.8" y1="1336.5" x2="1280.2" y2="1336.5" stroke="#000" stroke-width="2.1"/>
<line x1="1232.8" y1="1324.3" x2="1232.8" y2="1348.7" stroke="#000" stroke-width="2.1"/>
<line x1="1280.2" y1="1324.3" x2="1280.2" y2="1348.7" stroke="#000" stroke-width="2.1"/>
<circle cx="1256.5" cy="1336.5" r="4.0" fill="#f0776b" stroke="#000" stroke-width="1.1"/>
<line x1="1330.2" y1="1336.5" x2="1339.8" y2="1336.5" stroke="#333" stroke-width="1.2"/>
<text x="1352.3" y="1344.0" font-size="21.5" font-style="italic" fill="#000" textLength="157.0" lengthAdjust="spacingAndGlyphs">Caudoviricetes</text>
<text x="1516.8" y="1344.0" font-size="21.5" fill="#000" textLength="40.2" lengthAdjust="spacingAndGlyphs">729</text>
<line x1="1271.1" y1="1385.2" x2="1314.0" y2="1385.2" stroke="#000" stroke-width="2.1"/>
<line x1="1271.1" y1="1373.0" x2="1271.1" y2="1397.4" stroke="#000" stroke-width="2.1"/>
<line x1="1314.0" y1="1373.0" x2="1314.0" y2="1397.4" stroke="#000" stroke-width="2.1"/>
<circle cx="1292.3" cy="1385.2" r="4.0" fill="#f0776b" stroke="#000" stroke-width="1.1"/>
<line x1="1330.2" y1="1385.2" x2="1339.8" y2="1385.2" stroke="#333" stroke-width="1.2"/>
<text x="1352.3" y="1392.7" font-size="21.5" font-style="italic" fill="#000" textLength="157.0" lengthAdjust="spacingAndGlyphs">Caudoviricetes</text>
<text x="1516.8" y="1392.7" font-size="21.5" fill="#000" textLength="41.3" lengthAdjust="spacingAndGlyphs">847</text>
<line x1="1070.8" y1="1433.6" x2="1092.0" y2="1433.6" stroke="#000" stroke-width="2.1"/>
<line x1="1070.8" y1="1421.4" x2="1070.8" y2="1445.8" stroke="#000" stroke-width="2.1"/>
<line x1="1092.0" y1="1421.4" x2="1092.0" y2="1445.8" stroke="#000" stroke-width="2.1"/>
<circle cx="1081.6" cy="1433.6" r="4.0" fill="#f0776b" stroke="#000" stroke-width="1.1"/>
<line x1="1330.2" y1="1433.6" x2="1339.8" y2="1433.6" stroke="#333" stroke-width="1.2"/>
<text x="1352.3" y="1441.1" font-size="21.5" fill="#000" textLength="122.8" lengthAdjust="spacingAndGlyphs">Unassigned</text>
<text x="1482.6" y="1441.1" font-size="21.5" fill="#000" textLength="38.7" lengthAdjust="spacingAndGlyphs">133</text>
<line x1="1186.5" y1="1482.1" x2="1226.1" y2="1482.1" stroke="#000" stroke-width="2.1"/>
<line x1="1186.5" y1="1469.9" x2="1186.5" y2="1494.3" stroke="#000" stroke-width="2.1"/>
<line x1="1226.1" y1="1469.9" x2="1226.1" y2="1494.3" stroke="#000" stroke-width="2.1"/>
<circle cx="1206.1" cy="1482.1" r="4.0" fill="#f0776b" stroke="#000" stroke-width="1.1"/>
<line x1="1330.2" y1="1482.1" x2="1339.8" y2="1482.1" stroke="#333" stroke-width="1.2"/>
<text x="1352.3" y="1489.6" font-size="21.5" fill="#000" textLength="122.8" lengthAdjust="spacingAndGlyphs">Unassigned</text>
<text x="1482.6" y="1489.6" font-size="21.5" fill="#000" textLength="38.9" lengthAdjust="spacingAndGlyphs">192</text>
<line x1="1147.0" y1="1530.8" x2="1161.5" y2="1530.8" stroke="#000" stroke-width="2.1"/>
<line x1="1147.0" y1="1518.6" x2="1147.0" y2="1543.0" stroke="#000" stroke-width="2.1"/>
<line x1="1161.5" y1="1518.6" x2="1161.5" y2="1543.0" stroke="#000" stroke-width="2.1"/>
<circle cx="1154.0" cy="1530.8" r="4.0" fill="#f0776b" stroke="#000" stroke-width="1.1"/>
<line x1="1330.2" y1="1530.8" x2="1339.8" y2="1530.8" stroke="#333" stroke-width="1.2"/>
<text x="1352.3" y="1538.3" font-size="21.5" fill="#000" textLength="122.8" lengthAdjust="spacingAndGlyphs">Unassigned</text>
<text x="1482.6" y="1538.3" font-size="21.5" fill="#000" textLength="41.5" lengthAdjust="spacingAndGlyphs">328</text>
<line x1="1137.4" y1="1579.1" x2="1151.6" y2="1579.1" stroke="#000" stroke-width="2.1"/>
<line x1="1137.4" y1="1566.9" x2="1137.4" y2="1591.3" stroke="#000" stroke-width="2.1"/>
<line x1="1151.6" y1="1566.9" x2="1151.6" y2="1591.3" stroke="#000" stroke-width="2.1"/>
<circle cx="1144.5" cy="1579.1" r="4.0" fill="#f0776b" stroke="#000" stroke-width="1.1"/>
<line x1="1330.2" y1="1579.1" x2="1339.8" y2="1579.1" stroke="#333" stroke-width="1.2"/>
<text x="1352.3" y="1586.6" font-size="21.5" fill="#000" textLength="122.8" lengthAdjust="spacingAndGlyphs">Unassigned</text>
<text x="1482.6" y="1586.6" font-size="21.5" fill="#000" textLength="38.7" lengthAdjust="spacingAndGlyphs">513</text>
<line x1="1123.2" y1="1627.8" x2="1140.3" y2="1627.8" stroke="#000" stroke-width="2.1"/>
<line x1="1123.2" y1="1615.6" x2="1123.2" y2="1640.0" stroke="#000" stroke-width="2.1"/>
<line x1="1140.3" y1="1615.6" x2="1140.3" y2="1640.0" stroke="#000" stroke-width="2.1"/>
<circle cx="1131.6" cy="1627.8" r="4.0" fill="#f0776b" stroke="#000" stroke-width="1.1"/>
<line x1="1330.2" y1="1627.8" x2="1339.8" y2="1627.8" stroke="#333" stroke-width="1.2"/>
<text x="1352.3" y="1635.3" font-size="21.5" fill="#000" textLength="122.8" lengthAdjust="spacingAndGlyphs">Unassigned</text>
<text x="1482.6" y="1635.3" font-size="21.5" fill="#000" textLength="40.9" lengthAdjust="spacingAndGlyphs">702</text>
<line x1="1211.9" y1="1676.5" x2="1284.4" y2="1676.5" stroke="#000" stroke-width="2.1"/>
<line x1="1211.9" y1="1664.3" x2="1211.9" y2="1688.7" stroke="#000" stroke-width="2.1"/>
<line x1="1284.4" y1="1664.3" x2="1284.4" y2="1688.7" stroke="#000" stroke-width="2.1"/>
<circle cx="1248.2" cy="1676.5" r="4.0" fill="#f0776b" stroke="#000" stroke-width="1.1"/>
<line x1="1330.2" y1="1676.5" x2="1339.8" y2="1676.5" stroke="#333" stroke-width="1.2"/>
<text x="1352.3" y="1684.0" font-size="21.5" fill="#000" textLength="122.8" lengthAdjust="spacingAndGlyphs">Unassigned</text>
<text x="1482.6" y="1684.0" font-size="21.5" fill="#000" textLength="40.9" lengthAdjust="spacingAndGlyphs">766</text>
<line x1="1224.4" y1="1725.3" x2="1265.2" y2="1725.3" stroke="#000" stroke-width="2.1"/>
<line x1="1224.4" y1="1713.1" x2="1224.4" y2="1737.5" stroke="#000" stroke-width="2.1"/>
<line x1="1265.2" y1="1713.1" x2="1265.2" y2="1737.5" stroke="#000" stroke-width="2.1"/>
<circle cx="1244.8" cy="1725.3" r="4.0" fill="#f0776b" stroke="#000" stroke-width="1.1"/>
<line x1="1330.2" y1="1725.3" x2="1339.8" y2="1725.3" stroke="#333" stroke-width="1.2"/>
<text x="1352.3" y="1732.8" font-size="21.5" fill="#000" textLength="122.8" lengthAdjust="spacingAndGlyphs">Unassigned</text>
<text x="1482.6" y="1732.8" font-size="21.5" fill="#000" textLength="36.5" lengthAdjust="spacingAndGlyphs">911</text>
<rect x="965.4" y="1161.2" width="364.8" height="592.8" fill="none" stroke="#333" stroke-width="1.2"/>
<rect x="965.4" y="1122.9" width="364.8" height="38.3" fill="#d9d9d9" stroke="#333" stroke-width="1.2"/>
<text x="983.7" y="1150.0" font-size="21.5" fill="#000" textLength="328.0" lengthAdjust="spacingAndGlyphs">Differentially abundant phages</text>
<line x1="992.9" y1="1754.0" x2="992.9" y2="1763.6" stroke="#333" stroke-width="1.2"/>
<text x="974.4" y="1793.1" font-size="21.5" fill="#000" textLength="38.9" lengthAdjust="spacingAndGlyphs">−10</text>
<line x1="1081.2" y1="1754.0" x2="1081.2" y2="1763.6" stroke="#333" stroke-width="1.2"/>
<text x="1068.9" y="1793.1" font-size="21.5" fill="#000" textLength="26.7" lengthAdjust="spacingAndGlyphs">−5</text>
<line x1="1169.5" y1="1754.0" x2="1169.5" y2="1763.6" stroke="#333" stroke-width="1.2"/>
<text x="1163.5" y="1793.1" font-size="21.5" fill="#000">0</text>
<line x1="1257.7" y1="1754.0" x2="1257.7" y2="1763.6" stroke="#333" stroke-width="1.2"/>
<text x="1251.7" y="1793.1" font-size="21.5" fill="#000">5</text>
<text x="1074.1" y="1837.7" font-size="25" textLength="149" lengthAdjust="spacingAndGlyphs">Estimate (<tspan font-style="italic">β</tspan>)</text>
<text x="141.0" y="1910.8" font-size="39" font-weight="bold" stroke="#000" stroke-width="0.9" stroke-linejoin="round" fill="#000">g</text>
<text x="214.8" y="1922.4" font-size="26" fill="#000" textLength="276.0" lengthAdjust="spacingAndGlyphs">Social interaction test</text>
<line x1="251.3" y1="1948.1" x2="251.3" y2="2215.1" stroke="#333" stroke-width="1.3"/>
<line x1="242.3" y1="1948.7" x2="251.3" y2="1948.7" stroke="#333" stroke-width="1.3"/>
<text x="193.4" y="1956.5" font-size="22.5" fill="#000" textLength="35.5" lengthAdjust="spacingAndGlyphs">2.0</text>
<line x1="242.3" y1="2015.5" x2="251.3" y2="2015.5" stroke="#333" stroke-width="1.3"/>
<text x="197.1" y="2023.3" font-size="22.5" fill="#000" textLength="32.0" lengthAdjust="spacingAndGlyphs">1.5</text>
<line x1="242.3" y1="2081.7" x2="251.3" y2="2081.7" stroke="#333" stroke-width="1.3"/>
<text x="195.9" y="2089.5" font-size="22.5" fill="#000" textLength="33.1" lengthAdjust="spacingAndGlyphs">1.0</text>
<line x1="242.3" y1="2148.2" x2="251.3" y2="2148.2" stroke="#333" stroke-width="1.3"/>
<text x="193.2" y="2156.0" font-size="22.5" fill="#000" textLength="35.8" lengthAdjust="spacingAndGlyphs">0.5</text>
<line x1="242.3" y1="2214.5" x2="251.3" y2="2214.5" stroke="#333" stroke-width="1.3"/>
<text x="216.5" y="2222.3" font-size="22.5" fill="#000">0</text>
<line x1="294.9" y1="2009.8" x2="294.9" y2="2055.4" stroke="#000" stroke-width="2.9"/>
<line x1="294.9" y1="2096.4" x2="294.9" y2="2113.1" stroke="#000" stroke-width="2.9"/>
<line x1="280.7" y1="2009.8" x2="309.1" y2="2009.8" stroke="#000" stroke-width="2.5"/>
<line x1="280.7" y1="2113.1" x2="309.1" y2="2113.1" stroke="#000" stroke-width="2.5"/>
<rect x="267.2" y="2055.4" width="55.7" height="41.0" fill="#bcc7e2" stroke="#000" stroke-width="2.8"/>
<line x1="267.2" y1="2085.1" x2="322.9" y2="2085.1" stroke="#000" stroke-width="2.6"/>
<circle cx="294.9" cy="2009.8" r="2.7" fill="#8c8c8c" stroke="#777" stroke-width="0.6" fill-opacity="0.42" stroke-opacity="0.4"/>
<circle cx="294.9" cy="2043.2" r="2.7" fill="#8c8c8c" stroke="#777" stroke-width="0.6" fill-opacity="0.42" stroke-opacity="0.4"/>
<circle cx="294.9" cy="2057.6" r="2.7" fill="#8c8c8c" stroke="#777" stroke-width="0.6" fill-opacity="0.42" stroke-opacity="0.4"/>
<circle cx="294.9" cy="2070.1" r="2.7" fill="#8c8c8c" stroke="#777" stroke-width="0.6" fill-opacity="0.42" stroke-opacity="0.4"/>
<circle cx="294.9" cy="2078.0" r="2.7" fill="#8c8c8c" stroke="#777" stroke-width="0.6" fill-opacity="0.42" stroke-opacity="0.4"/>
<circle cx="283.6" cy="2092.7" r="2.7" fill="#8c8c8c" stroke="#777" stroke-width="0.6" fill-opacity="0.42" stroke-opacity="0.4"/>
<circle cx="294.9" cy="2092.7" r="2.7" fill="#8c8c8c" stroke="#777" stroke-width="0.6" fill-opacity="0.42" stroke-opacity="0.4"/>
<circle cx="305.4" cy="2095.0" r="2.7" fill="#8c8c8c" stroke="#777" stroke-width="0.6" fill-opacity="0.42" stroke-opacity="0.4"/>
<circle cx="294.9" cy="2106.3" r="2.7" fill="#8c8c8c" stroke="#777" stroke-width="0.6" fill-opacity="0.42" stroke-opacity="0.4"/>
<circle cx="294.9" cy="2113.1" r="2.7" fill="#8c8c8c" stroke="#777" stroke-width="0.6" fill-opacity="0.42" stroke-opacity="0.4"/>
<line x1="383.8" y1="2069.0" x2="383.8" y2="2097.8" stroke="#000" stroke-width="2.9"/>
<line x1="383.8" y1="2170.0" x2="383.8" y2="2206.8" stroke="#000" stroke-width="2.9"/>
<line x1="369.7" y1="2069.0" x2="397.9" y2="2069.0" stroke="#000" stroke-width="2.5"/>
<line x1="369.7" y1="2206.8" x2="397.9" y2="2206.8" stroke="#000" stroke-width="2.5"/>
<rect x="356.4" y="2097.8" width="55.1" height="72.2" fill="#ffc183" stroke="#000" stroke-width="2.8"/>
<line x1="356.4" y1="2129.0" x2="411.5" y2="2129.0" stroke="#000" stroke-width="2.6"/>
<circle cx="383.8" cy="2069.0" r="2.7" fill="#8c8c8c" stroke="#777" stroke-width="0.6" fill-opacity="0.42" stroke-opacity="0.4"/>
<circle cx="383.8" cy="2080.8" r="2.7" fill="#8c8c8c" stroke="#777" stroke-width="0.6" fill-opacity="0.42" stroke-opacity="0.4"/>
<circle cx="383.8" cy="2102.1" r="2.7" fill="#8c8c8c" stroke="#777" stroke-width="0.6" fill-opacity="0.42" stroke-opacity="0.4"/>
<circle cx="378.4" cy="2119.1" r="2.7" fill="#8c8c8c" stroke="#777" stroke-width="0.6" fill-opacity="0.42" stroke-opacity="0.4"/>
<circle cx="389.4" cy="2124.2" r="2.7" fill="#8c8c8c" stroke="#777" stroke-width="0.6" fill-opacity="0.42" stroke-opacity="0.4"/>
<circle cx="378.4" cy="2134.6" r="2.7" fill="#8c8c8c" stroke="#777" stroke-width="0.6" fill-opacity="0.42" stroke-opacity="0.4"/>
<circle cx="389.4" cy="2136.0" r="2.7" fill="#8c8c8c" stroke="#777" stroke-width="0.6" fill-opacity="0.42" stroke-opacity="0.4"/>
<circle cx="383.8" cy="2167.7" r="2.7" fill="#8c8c8c" stroke="#777" stroke-width="0.6" fill-opacity="0.42" stroke-opacity="0.4"/>
<circle cx="383.8" cy="2181.3" r="2.7" fill="#8c8c8c" stroke="#777" stroke-width="0.6" fill-opacity="0.42" stroke-opacity="0.4"/>
<circle cx="383.8" cy="2206.8" r="2.7" fill="#8c8c8c" stroke="#777" stroke-width="0.6" fill-opacity="0.42" stroke-opacity="0.4"/>
<text x="369.6" y="2050.0" font-size="29" fill="#000" textLength="27.5" lengthAdjust="spacingAndGlyphs">**</text>
<text x="73.5" y="2081.6" font-size="26" fill="#000" textLength="199.6" lengthAdjust="spacingAndGlyphs" transform="rotate(-90 173.3 2081.6)">Interaction ratio</text>
<text x="534.2" y="1910.5" font-size="39" font-weight="bold" stroke="#000" stroke-width="0.9" stroke-linejoin="round" fill="#000">h</text>
<text x="662.9" y="1922.4" font-size="26" fill="#000" textLength="213.1" lengthAdjust="spacingAndGlyphs">Forced swim test</text>
<line x1="677.9" y1="1948.7" x2="677.9" y2="2215.1" stroke="#333" stroke-width="1.3"/>
<line x1="668.6" y1="1949.3" x2="677.9" y2="1949.3" stroke="#333" stroke-width="1.3"/>
<text x="610.8" y="1957.1" font-size="22.5" fill="#000" textLength="45.2" lengthAdjust="spacingAndGlyphs">200</text>
<line x1="668.6" y1="2015.8" x2="677.9" y2="2015.8" stroke="#333" stroke-width="1.3"/>
<text x="614.4" y="2023.6" font-size="22.5" fill="#000" textLength="41.6" lengthAdjust="spacingAndGlyphs">150</text>
<line x1="668.6" y1="2081.7" x2="677.9" y2="2081.7" stroke="#333" stroke-width="1.3"/>
<text x="613.2" y="2089.5" font-size="22.5" fill="#000" textLength="42.8" lengthAdjust="spacingAndGlyphs">100</text>
<line x1="668.6" y1="2148.2" x2="677.9" y2="2148.2" stroke="#333" stroke-width="1.3"/>
<text x="626.1" y="2156.0" font-size="22.5" fill="#000" textLength="29.9" lengthAdjust="spacingAndGlyphs">50</text>
<line x1="668.6" y1="2214.5" x2="677.9" y2="2214.5" stroke="#333" stroke-width="1.3"/>
<text x="643.5" y="2222.3" font-size="22.5" fill="#000">0</text>
<line x1="721.8" y1="2066.7" x2="721.8" y2="2091.3" stroke="#000" stroke-width="2.9"/>
<line x1="721.8" y1="2139.7" x2="721.8" y2="2161.2" stroke="#000" stroke-width="2.9"/>
<line x1="707.8" y1="2066.7" x2="735.8" y2="2066.7" stroke="#000" stroke-width="2.5"/>
<line x1="707.8" y1="2161.2" x2="735.8" y2="2161.2" stroke="#000" stroke-width="2.5"/>
<rect x="694.4" y="2091.3" width="54.8" height="48.4" fill="#bcc7e2" stroke="#000" stroke-width="2.8"/>
<line x1="694.4" y1="2114.0" x2="749.2" y2="2114.0" stroke="#000" stroke-width="2.6"/>
<circle cx="721.8" cy="2066.7" r="2.7" fill="#8c8c8c" stroke="#777" stroke-width="0.6" fill-opacity="0.42" stroke-opacity="0.4"/>
<circle cx="721.8" cy="2076.0" r="2.7" fill="#8c8c8c" stroke="#777" stroke-width="0.6" fill-opacity="0.42" stroke-opacity="0.4"/>
<circle cx="721.8" cy="2095.0" r="2.7" fill="#8c8c8c" stroke="#777" stroke-width="0.6" fill-opacity="0.42" stroke-opacity="0.4"/>
<circle cx="721.8" cy="2102.9" r="2.7" fill="#8c8c8c" stroke="#777" stroke-width="0.6" fill-opacity="0.42" stroke-opacity="0.4"/>
<circle cx="721.8" cy="2111.1" r="2.7" fill="#8c8c8c" stroke="#777" stroke-width="0.6" fill-opacity="0.42" stroke-opacity="0.4"/>
<circle cx="721.8" cy="2117.6" r="2.7" fill="#8c8c8c" stroke="#777" stroke-width="0.6" fill-opacity="0.42" stroke-opacity="0.4"/>
<circle cx="721.8" cy="2130.4" r="2.7" fill="#8c8c8c" stroke="#777" stroke-width="0.6" fill-opacity="0.42" stroke-opacity="0.4"/>
<circle cx="721.8" cy="2138.3" r="2.7" fill="#8c8c8c" stroke="#777" stroke-width="0.6" fill-opacity="0.42" stroke-opacity="0.4"/>
<circle cx="721.8" cy="2146.5" r="2.7" fill="#8c8c8c" stroke="#777" stroke-width="0.6" fill-opacity="0.42" stroke-opacity="0.4"/>
<circle cx="721.8" cy="2161.2" r="2.7" fill="#8c8c8c" stroke="#777" stroke-width="0.6" fill-opacity="0.42" stroke-opacity="0.4"/>
<line x1="810.7" y1="2000.2" x2="810.7" y2="2027.7" stroke="#000" stroke-width="2.9"/>
<line x1="810.7" y1="2071.2" x2="810.7" y2="2097.3" stroke="#000" stroke-width="2.9"/>
<line x1="796.5" y1="2000.2" x2="824.9" y2="2000.2" stroke="#000" stroke-width="2.5"/>
<line x1="796.5" y1="2097.3" x2="824.9" y2="2097.3" stroke="#000" stroke-width="2.5"/>
<rect x="782.7" y="2027.7" width="55.7" height="43.5" fill="#ffc183" stroke="#000" stroke-width="2.8"/>
<line x1="782.7" y1="2042.4" x2="838.4" y2="2042.4" stroke="#000" stroke-width="2.6"/>
<circle cx="810.7" cy="2000.2" r="2.7" fill="#8c8c8c" stroke="#777" stroke-width="0.6" fill-opacity="0.42" stroke-opacity="0.4"/>
<circle cx="810.7" cy="2017.2" r="2.7" fill="#8c8c8c" stroke="#777" stroke-width="0.6" fill-opacity="0.42" stroke-opacity="0.4"/>
<circle cx="815.8" cy="2029.9" r="2.7" fill="#8c8c8c" stroke="#777" stroke-width="0.6" fill-opacity="0.42" stroke-opacity="0.4"/>
<circle cx="805.0" cy="2032.2" r="2.7" fill="#8c8c8c" stroke="#777" stroke-width="0.6" fill-opacity="0.42" stroke-opacity="0.4"/>
<circle cx="810.7" cy="2040.4" r="2.7" fill="#8c8c8c" stroke="#777" stroke-width="0.6" fill-opacity="0.42" stroke-opacity="0.4"/>
<circle cx="810.7" cy="2046.0" r="2.7" fill="#8c8c8c" stroke="#777" stroke-width="0.6" fill-opacity="0.42" stroke-opacity="0.4"/>
<circle cx="810.7" cy="2052.5" r="2.7" fill="#8c8c8c" stroke="#777" stroke-width="0.6" fill-opacity="0.42" stroke-opacity="0.4"/>
<circle cx="810.7" cy="2066.7" r="2.7" fill="#8c8c8c" stroke="#777" stroke-width="0.6" fill-opacity="0.42" stroke-opacity="0.4"/>
<circle cx="810.7" cy="2089.3" r="2.7" fill="#8c8c8c" stroke="#777" stroke-width="0.6" fill-opacity="0.42" stroke-opacity="0.4"/>
<circle cx="810.7" cy="2097.3" r="2.7" fill="#8c8c8c" stroke="#777" stroke-width="0.6" fill-opacity="0.42" stroke-opacity="0.4"/>
<text x="788.8" y="1981.0" font-size="29" fill="#000" textLength="42.5" lengthAdjust="spacingAndGlyphs">***</text>
<text x="472.5" y="2081.6" font-size="26" fill="#000" textLength="233.5" lengthAdjust="spacingAndGlyphs" transform="rotate(-90 589.3 2081.6)">Immobility time (s)</text>
<text x="969.2" y="1909.6" font-size="39" font-weight="bold" stroke="#000" stroke-width="0.9" stroke-linejoin="round" fill="#000">i</text>
<text x="1056.6" y="1922.4" font-size="26" fill="#000" textLength="257.9" lengthAdjust="spacingAndGlyphs">Basal corticosterone</text>
<line x1="1101.6" y1="1943.6" x2="1101.6" y2="2209.4" stroke="#333" stroke-width="1.3"/>
<line x1="1092.3" y1="1944.2" x2="1101.6" y2="1944.2" stroke="#333" stroke-width="1.3"/>
<text x="1048.5" y="1952.0" font-size="22.5" fill="#000" textLength="30.8" lengthAdjust="spacingAndGlyphs">40</text>
<line x1="1092.3" y1="2010.4" x2="1101.6" y2="2010.4" stroke="#333" stroke-width="1.3"/>
<text x="1049.4" y="2018.2" font-size="22.5" fill="#000" textLength="29.9" lengthAdjust="spacingAndGlyphs">30</text>
<line x1="1092.3" y1="2076.9" x2="1101.6" y2="2076.9" stroke="#333" stroke-width="1.3"/>
<text x="1049.6" y="2084.7" font-size="22.5" fill="#000" textLength="29.7" lengthAdjust="spacingAndGlyphs">20</text>
<line x1="1092.3" y1="2143.1" x2="1101.6" y2="2143.1" stroke="#333" stroke-width="1.3"/>
<text x="1052.1" y="2150.9" font-size="22.5" fill="#000" textLength="27.2" lengthAdjust="spacingAndGlyphs">10</text>
<line x1="1092.3" y1="2208.8" x2="1101.6" y2="2208.8" stroke="#333" stroke-width="1.3"/>
<text x="1066.8" y="2216.6" font-size="22.5" fill="#000">0</text>
<line x1="1145.5" y1="2079.4" x2="1145.5" y2="2098.1" stroke="#000" stroke-width="2.9"/>
<line x1="1145.5" y1="2204.0" x2="1145.5" y2="2206.8" stroke="#000" stroke-width="2.9"/>
<line x1="1131.5" y1="2079.4" x2="1159.5" y2="2079.4" stroke="#000" stroke-width="2.5"/>
<line x1="1131.5" y1="2206.8" x2="1159.5" y2="2206.8" stroke="#000" stroke-width="2.5"/>
<rect x="1118.1" y="2098.1" width="54.8" height="105.9" fill="#bcc7e2" stroke="#000" stroke-width="2.8"/>
<line x1="1118.1" y1="2136.0" x2="1172.9" y2="2136.0" stroke="#000" stroke-width="2.6"/>
<circle cx="1145.5" cy="2079.4" r="2.7" fill="#8c8c8c" stroke="#777" stroke-width="0.6" fill-opacity="0.42" stroke-opacity="0.4"/>
<circle cx="1140.1" cy="2095.0" r="2.7" fill="#8c8c8c" stroke="#777" stroke-width="0.6" fill-opacity="0.42" stroke-opacity="0.4"/>
<circle cx="1150.8" cy="2097.3" r="2.7" fill="#8c8c8c" stroke="#777" stroke-width="0.6" fill-opacity="0.42" stroke-opacity="0.4"/>
<circle cx="1145.5" cy="2105.8" r="2.7" fill="#8c8c8c" stroke="#777" stroke-width="0.6" fill-opacity="0.42" stroke-opacity="0.4"/>
<circle cx="1145.5" cy="2115.1" r="2.7" fill="#8c8c8c" stroke="#777" stroke-width="0.6" fill-opacity="0.42" stroke-opacity="0.4"/>
<circle cx="1145.5" cy="2157.3" r="2.7" fill="#8c8c8c" stroke="#777" stroke-width="0.6" fill-opacity="0.42" stroke-opacity="0.4"/>
<circle cx="1145.5" cy="2167.2" r="2.7" fill="#8c8c8c" stroke="#777" stroke-width="0.6" fill-opacity="0.42" stroke-opacity="0.4"/>
<circle cx="1135.3" cy="2206.2" r="2.7" fill="#8c8c8c" stroke="#777" stroke-width="0.6" fill-opacity="0.42" stroke-opacity="0.4"/>
<circle cx="1145.5" cy="2205.4" r="2.7" fill="#8c8c8c" stroke="#777" stroke-width="0.6" fill-opacity="0.42" stroke-opacity="0.4"/>
<circle cx="1155.7" cy="2206.2" r="2.7" fill="#8c8c8c" stroke="#777" stroke-width="0.6" fill-opacity="0.42" stroke-opacity="0.4"/>
<line x1="1234.4" y1="1981.2" x2="1234.4" y2="2015.8" stroke="#000" stroke-width="2.9"/>
<line x1="1234.4" y1="2137.2" x2="1234.4" y2="2195.2" stroke="#000" stroke-width="2.9"/>
<line x1="1220.3" y1="1981.2" x2="1248.5" y2="1981.2" stroke="#000" stroke-width="2.5"/>
<line x1="1220.3" y1="2195.2" x2="1248.5" y2="2195.2" stroke="#000" stroke-width="2.5"/>
<rect x="1206.4" y="2015.8" width="55.4" height="121.4" fill="#ffc183" stroke="#000" stroke-width="2.8"/>
<line x1="1206.4" y1="2074.3" x2="1261.8" y2="2074.3" stroke="#000" stroke-width="2.6"/>
<circle cx="1234.3" cy="1981.2" r="2.7" fill="#8c8c8c" stroke="#777" stroke-width="0.6" fill-opacity="0.42" stroke-opacity="0.4"/>
<circle cx="1234.3" cy="1993.1" r="2.7" fill="#8c8c8c" stroke="#777" stroke-width="0.6" fill-opacity="0.42" stroke-opacity="0.4"/>
<circle cx="1234.3" cy="2022.0" r="2.7" fill="#8c8c8c" stroke="#777" stroke-width="0.6" fill-opacity="0.42" stroke-opacity="0.4"/>
<circle cx="1228.7" cy="2027.9" r="2.7" fill="#8c8c8c" stroke="#777" stroke-width="0.6" fill-opacity="0.42" stroke-opacity="0.4"/>
<circle cx="1239.4" cy="2029.3" r="2.7" fill="#8c8c8c" stroke="#777" stroke-width="0.6" fill-opacity="0.42" stroke-opacity="0.4"/>
<circle cx="1234.3" cy="2121.0" r="2.7" fill="#8c8c8c" stroke="#777" stroke-width="0.6" fill-opacity="0.42" stroke-opacity="0.4"/>
<circle cx="1228.7" cy="2133.8" r="2.7" fill="#8c8c8c" stroke="#777" stroke-width="0.6" fill-opacity="0.42" stroke-opacity="0.4"/>
<circle cx="1239.4" cy="2133.8" r="2.7" fill="#8c8c8c" stroke="#777" stroke-width="0.6" fill-opacity="0.42" stroke-opacity="0.4"/>
<circle cx="1234.3" cy="2154.4" r="2.7" fill="#8c8c8c" stroke="#777" stroke-width="0.6" fill-opacity="0.42" stroke-opacity="0.4"/>
<circle cx="1234.3" cy="2195.2" r="2.7" fill="#8c8c8c" stroke="#777" stroke-width="0.6" fill-opacity="0.42" stroke-opacity="0.4"/>
<text x="1226.7" y="1962.0" font-size="29" fill="#000" textLength="13.0" lengthAdjust="spacingAndGlyphs">*</text>
<text x="873.5" y="2076.6" font-size="26" textLength="302.8" lengthAdjust="spacingAndGlyphs" transform="rotate(-90 1024.9 2076.6)">Corticosterone (ng ml<tspan font-size="15.5" dy="-11.5">−1</tspan><tspan dy="11.5">)</tspan></text>
<text x="142.1" y="2290.0" font-size="39" font-weight="bold" stroke="#000" stroke-width="0.9" stroke-linejoin="round" fill="#000">j</text>
<text x="219.6" y="2303.7" font-size="26" fill="#000" textLength="245.7" lengthAdjust="spacingAndGlyphs">Post corticosterone</text>
<line x1="253.6" y1="2332.0" x2="253.6" y2="2598.6" stroke="#333" stroke-width="1.3"/>
<line x1="244.5" y1="2332.6" x2="253.6" y2="2332.6" stroke="#333" stroke-width="1.3"/>
<text x="187.1" y="2340.4" font-size="22.5" fill="#000" textLength="44.1" lengthAdjust="spacingAndGlyphs">250</text>
<line x1="244.5" y1="2385.8" x2="253.6" y2="2385.8" stroke="#333" stroke-width="1.3"/>
<text x="186.0" y="2393.6" font-size="22.5" fill="#000" textLength="45.2" lengthAdjust="spacingAndGlyphs">200</text>
<line x1="244.5" y1="2439.0" x2="253.6" y2="2439.0" stroke="#333" stroke-width="1.3"/>
<text x="189.6" y="2446.8" font-size="22.5" fill="#000" textLength="41.6" lengthAdjust="spacingAndGlyphs">150</text>
<line x1="244.5" y1="2491.9" x2="253.6" y2="2491.9" stroke="#333" stroke-width="1.3"/>
<text x="188.4" y="2499.7" font-size="22.5" fill="#000" textLength="42.8" lengthAdjust="spacingAndGlyphs">100</text>
<line x1="244.5" y1="2545.1" x2="253.6" y2="2545.1" stroke="#333" stroke-width="1.3"/>
<text x="201.3" y="2552.9" font-size="22.5" fill="#000" textLength="29.9" lengthAdjust="spacingAndGlyphs">50</text>
<line x1="244.5" y1="2598.0" x2="253.6" y2="2598.0" stroke="#333" stroke-width="1.3"/>
<text x="218.7" y="2605.8" font-size="22.5" fill="#000">0</text>
<line x1="297.5" y1="2401.6" x2="297.5" y2="2440.4" stroke="#000" stroke-width="2.9"/>
<line x1="297.5" y1="2466.4" x2="297.5" y2="2480.9" stroke="#000" stroke-width="2.9"/>
<line x1="283.5" y1="2401.6" x2="311.5" y2="2401.6" stroke="#000" stroke-width="2.5"/>
<line x1="283.5" y1="2480.9" x2="311.5" y2="2480.9" stroke="#000" stroke-width="2.5"/>
<rect x="270.3" y="2440.4" width="54.6" height="26.0" fill="#bcc7e2" stroke="#000" stroke-width="2.8"/>
<line x1="270.3" y1="2448.0" x2="324.9" y2="2448.0" stroke="#000" stroke-width="2.6"/>
<circle cx="297.5" cy="2401.6" r="2.7" fill="#8c8c8c" stroke="#777" stroke-width="0.6" fill-opacity="0.42" stroke-opacity="0.4"/>
<circle cx="297.5" cy="2426.8" r="2.7" fill="#8c8c8c" stroke="#777" stroke-width="0.6" fill-opacity="0.42" stroke-opacity="0.4"/>
<circle cx="287.0" cy="2444.3" r="2.7" fill="#8c8c8c" stroke="#777" stroke-width="0.6" fill-opacity="0.42" stroke-opacity="0.4"/>
<circle cx="297.5" cy="2443.2" r="2.7" fill="#8c8c8c" stroke="#777" stroke-width="0.6" fill-opacity="0.42" stroke-opacity="0.4"/>
<circle cx="308.2" cy="2446.6" r="2.7" fill="#8c8c8c" stroke="#777" stroke-width="0.6" fill-opacity="0.42" stroke-opacity="0.4"/>
<circle cx="297.5" cy="2450.0" r="2.7" fill="#8c8c8c" stroke="#777" stroke-width="0.6" fill-opacity="0.42" stroke-opacity="0.4"/>
<circle cx="297.5" cy="2456.5" r="2.7" fill="#8c8c8c" stroke="#777" stroke-width="0.6" fill-opacity="0.42" stroke-opacity="0.4"/>
<circle cx="297.5" cy="2465.0" r="2.7" fill="#8c8c8c" stroke="#777" stroke-width="0.6" fill-opacity="0.42" stroke-opacity="0.4"/>
<circle cx="303.1" cy="2476.3" r="2.7" fill="#8c8c8c" stroke="#777" stroke-width="0.6" fill-opacity="0.42" stroke-opacity="0.4"/>
<circle cx="292.6" cy="2480.8" r="2.7" fill="#8c8c8c" stroke="#777" stroke-width="0.6" fill-opacity="0.42" stroke-opacity="0.4"/>
<line x1="386.0" y1="2377.8" x2="386.0" y2="2394.5" stroke="#000" stroke-width="2.9"/>
<line x1="386.0" y1="2445.2" x2="386.0" y2="2457.1" stroke="#000" stroke-width="2.9"/>
<line x1="371.8" y1="2377.8" x2="400.2" y2="2377.8" stroke="#000" stroke-width="2.5"/>
<line x1="371.8" y1="2457.1" x2="400.2" y2="2457.1" stroke="#000" stroke-width="2.5"/>
<rect x="358.6" y="2394.5" width="55.4" height="50.7" fill="#ffc183" stroke="#000" stroke-width="2.8"/>
<line x1="358.6" y1="2434.4" x2="414.0" y2="2434.4" stroke="#000" stroke-width="2.6"/>
<circle cx="386.0" cy="2377.8" r="2.7" fill="#8c8c8c" stroke="#777" stroke-width="0.6" fill-opacity="0.42" stroke-opacity="0.4"/>
<circle cx="386.0" cy="2387.7" r="2.7" fill="#8c8c8c" stroke="#777" stroke-width="0.6" fill-opacity="0.42" stroke-opacity="0.4"/>
<circle cx="386.0" cy="2395.1" r="2.7" fill="#8c8c8c" stroke="#777" stroke-width="0.6" fill-opacity="0.42" stroke-opacity="0.4"/>
<circle cx="386.0" cy="2421.1" r="2.7" fill="#8c8c8c" stroke="#777" stroke-width="0.6" fill-opacity="0.42" stroke-opacity="0.4"/>
<circle cx="386.0" cy="2430.5" r="2.7" fill="#8c8c8c" stroke="#777" stroke-width="0.6" fill-opacity="0.42" stroke-opacity="0.4"/>
<circle cx="386.0" cy="2439.0" r="2.7" fill="#8c8c8c" stroke="#777" stroke-width="0.6" fill-opacity="0.42" stroke-opacity="0.4"/>
<circle cx="375.6" cy="2442.6" r="2.7" fill="#8c8c8c" stroke="#777" stroke-width="0.6" fill-opacity="0.42" stroke-opacity="0.4"/>
<circle cx="396.8" cy="2443.8" r="2.7" fill="#8c8c8c" stroke="#777" stroke-width="0.6" fill-opacity="0.42" stroke-opacity="0.4"/>
<circle cx="391.1" cy="2454.2" r="2.7" fill="#8c8c8c" stroke="#777" stroke-width="0.6" fill-opacity="0.42" stroke-opacity="0.4"/>
<circle cx="380.4" cy="2457.1" r="2.7" fill="#8c8c8c" stroke="#777" stroke-width="0.6" fill-opacity="0.42" stroke-opacity="0.4"/>
<text x="340.8" y="2364.5" font-size="21.5" textLength="96.2" lengthAdjust="spacingAndGlyphs"><tspan font-style="italic">P</tspan> = 0.052</text>
<text x="11.1" y="2465" font-size="26" textLength="302.8" lengthAdjust="spacingAndGlyphs" transform="rotate(-90 162.5 2465)">Corticosterone (ng ml<tspan font-size="15.5" dy="-11.5">−1</tspan><tspan dy="11.5">)</tspan></text>
<text x="533.6" y="2290.4" font-size="39" font-weight="bold" stroke="#000" stroke-width="0.9" stroke-linejoin="round" fill="#000">k</text>
<text x="708.2" y="2303.7" font-size="26" fill="#000" textLength="122.3" lengthAdjust="spacingAndGlyphs">ConA IL-6</text>
<line x1="679.9" y1="2334.8" x2="679.9" y2="2600.9" stroke="#333" stroke-width="1.3"/>
<line x1="670.0" y1="2335.4" x2="679.9" y2="2335.4" stroke="#333" stroke-width="1.3"/>
<text x="611.8" y="2343.2" font-size="22.5" fill="#000" textLength="45.4" lengthAdjust="spacingAndGlyphs">500</text>
<line x1="670.0" y1="2388.0" x2="679.9" y2="2388.0" stroke="#333" stroke-width="1.3"/>
<text x="610.9" y="2395.8" font-size="22.5" fill="#000" textLength="46.3" lengthAdjust="spacingAndGlyphs">400</text>
<line x1="670.0" y1="2441.2" x2="679.9" y2="2441.2" stroke="#333" stroke-width="1.3"/>
<text x="611.8" y="2449.0" font-size="22.5" fill="#000" textLength="45.4" lengthAdjust="spacingAndGlyphs">300</text>
<line x1="670.0" y1="2494.2" x2="679.9" y2="2494.2" stroke="#333" stroke-width="1.3"/>
<text x="612.1" y="2502.0" font-size="22.5" fill="#000" textLength="45.2" lengthAdjust="spacingAndGlyphs">200</text>
<line x1="670.0" y1="2547.1" x2="679.9" y2="2547.1" stroke="#333" stroke-width="1.3"/>
<text x="614.5" y="2554.9" font-size="22.5" fill="#000" textLength="42.8" lengthAdjust="spacingAndGlyphs">100</text>
<line x1="670.0" y1="2600.3" x2="679.9" y2="2600.3" stroke="#333" stroke-width="1.3"/>
<text x="644.8" y="2608.1" font-size="22.5" fill="#000">0</text>
<line x1="723.8" y1="2438.7" x2="723.8" y2="2455.1" stroke="#000" stroke-width="2.9"/>
<line x1="723.8" y1="2551.9" x2="723.8" y2="2596.3" stroke="#000" stroke-width="2.9"/>
<line x1="709.8" y1="2438.7" x2="737.8" y2="2438.7" stroke="#000" stroke-width="2.5"/>
<line x1="709.8" y1="2596.3" x2="737.8" y2="2596.3" stroke="#000" stroke-width="2.5"/>
<rect x="696.4" y="2455.1" width="54.8" height="96.8" fill="#bcc7e2" stroke="#000" stroke-width="2.8"/>
<line x1="696.4" y1="2486.8" x2="751.2" y2="2486.8" stroke="#000" stroke-width="2.6"/>
<circle cx="723.8" cy="2438.7" r="2.7" fill="#8c8c8c" stroke="#777" stroke-width="0.6" fill-opacity="0.42" stroke-opacity="0.4"/>
<circle cx="713.3" cy="2453.7" r="2.7" fill="#8c8c8c" stroke="#777" stroke-width="0.6" fill-opacity="0.42" stroke-opacity="0.4"/>
<circle cx="723.8" cy="2452.3" r="2.7" fill="#8c8c8c" stroke="#777" stroke-width="0.6" fill-opacity="0.42" stroke-opacity="0.4"/>
<circle cx="734.2" cy="2456.8" r="2.7" fill="#8c8c8c" stroke="#777" stroke-width="0.6" fill-opacity="0.42" stroke-opacity="0.4"/>
<circle cx="728.9" cy="2485.7" r="2.7" fill="#8c8c8c" stroke="#777" stroke-width="0.6" fill-opacity="0.42" stroke-opacity="0.4"/>
<circle cx="718.1" cy="2488.5" r="2.7" fill="#8c8c8c" stroke="#777" stroke-width="0.6" fill-opacity="0.42" stroke-opacity="0.4"/>
<circle cx="723.8" cy="2493.3" r="2.7" fill="#8c8c8c" stroke="#777" stroke-width="0.6" fill-opacity="0.42" stroke-opacity="0.4"/>
<circle cx="723.8" cy="2539.2" r="2.7" fill="#8c8c8c" stroke="#777" stroke-width="0.6" fill-opacity="0.42" stroke-opacity="0.4"/>
<circle cx="718.1" cy="2596.3" r="2.7" fill="#8c8c8c" stroke="#777" stroke-width="0.6" fill-opacity="0.42" stroke-opacity="0.4"/>
<circle cx="728.9" cy="2595.5" r="2.7" fill="#8c8c8c" stroke="#777" stroke-width="0.6" fill-opacity="0.42" stroke-opacity="0.4"/>
<line x1="812.4" y1="2349.8" x2="812.4" y2="2360.0" stroke="#000" stroke-width="2.9"/>
<line x1="812.4" y1="2488.2" x2="812.4" y2="2514.5" stroke="#000" stroke-width="2.9"/>
<line x1="798.4" y1="2349.8" x2="826.4" y2="2349.8" stroke="#000" stroke-width="2.5"/>
<line x1="798.4" y1="2514.5" x2="826.4" y2="2514.5" stroke="#000" stroke-width="2.5"/>
<rect x="785.0" y="2360.0" width="54.8" height="128.2" fill="#ffc183" stroke="#000" stroke-width="2.8"/>
<line x1="785.0" y1="2456.2" x2="839.8" y2="2456.2" stroke="#000" stroke-width="2.6"/>
<circle cx="812.4" cy="2349.8" r="2.7" fill="#8c8c8c" stroke="#777" stroke-width="0.6" fill-opacity="0.42" stroke-opacity="0.4"/>
<circle cx="806.7" cy="2356.0" r="2.7" fill="#8c8c8c" stroke="#777" stroke-width="0.6" fill-opacity="0.42" stroke-opacity="0.4"/>
<circle cx="817.2" cy="2360.0" r="2.7" fill="#8c8c8c" stroke="#777" stroke-width="0.6" fill-opacity="0.42" stroke-opacity="0.4"/>
<circle cx="812.4" cy="2411.2" r="2.7" fill="#8c8c8c" stroke="#777" stroke-width="0.6" fill-opacity="0.42" stroke-opacity="0.4"/>
<circle cx="812.4" cy="2452.8" r="2.7" fill="#8c8c8c" stroke="#777" stroke-width="0.6" fill-opacity="0.42" stroke-opacity="0.4"/>
<circle cx="812.4" cy="2456.5" r="2.7" fill="#8c8c8c" stroke="#777" stroke-width="0.6" fill-opacity="0.42" stroke-opacity="0.4"/>
<circle cx="812.4" cy="2460.2" r="2.7" fill="#8c8c8c" stroke="#777" stroke-width="0.6" fill-opacity="0.42" stroke-opacity="0.4"/>
<circle cx="812.4" cy="2479.2" r="2.7" fill="#8c8c8c" stroke="#777" stroke-width="0.6" fill-opacity="0.42" stroke-opacity="0.4"/>
<circle cx="812.4" cy="2485.4" r="2.7" fill="#8c8c8c" stroke="#777" stroke-width="0.6" fill-opacity="0.42" stroke-opacity="0.4"/>
<circle cx="812.4" cy="2502.4" r="2.7" fill="#8c8c8c" stroke="#777" stroke-width="0.6" fill-opacity="0.42" stroke-opacity="0.4"/>
<circle cx="812.4" cy="2514.5" r="2.7" fill="#8c8c8c" stroke="#777" stroke-width="0.6" fill-opacity="0.42" stroke-opacity="0.4"/>
<text x="805.0" y="2341.5" font-size="29" fill="#000" textLength="13.0" lengthAdjust="spacingAndGlyphs">*</text>
<text x="522.2" y="2467.8" font-size="26" fill="#000" textLength="68.0" lengthAdjust="spacingAndGlyphs" transform="rotate(-90 556.2 2467.8)">ConA</text>
<text x="509.8" y="2467.6" font-size="26" textLength="158" lengthAdjust="spacingAndGlyphs" transform="rotate(-90 588.8 2467.6)">IL-6 (pg ml<tspan font-size="15.5" dy="-11.5">−1</tspan><tspan dy="11.5">)</tspan></text>
<text x="969.2" y="2291.5" font-size="39" font-weight="bold" stroke="#000" stroke-width="0.9" stroke-linejoin="round" fill="#000">l</text>
<text x="1117.5" y="2303.7" font-size="26" fill="#000" textLength="133.8" lengthAdjust="spacingAndGlyphs">ConA IL-10</text>
<line x1="1101.0" y1="2331.7" x2="1101.0" y2="2598.6" stroke="#333" stroke-width="1.3"/>
<line x1="1091.4" y1="2332.3" x2="1101.0" y2="2332.3" stroke="#333" stroke-width="1.3"/>
<text x="1047.9" y="2340.1" font-size="22.5" fill="#000" textLength="30.8" lengthAdjust="spacingAndGlyphs">40</text>
<line x1="1091.4" y1="2399.1" x2="1101.0" y2="2399.1" stroke="#333" stroke-width="1.3"/>
<text x="1048.8" y="2406.9" font-size="22.5" fill="#000" textLength="29.9" lengthAdjust="spacingAndGlyphs">30</text>
<line x1="1091.4" y1="2465.3" x2="1101.0" y2="2465.3" stroke="#333" stroke-width="1.3"/>
<text x="1049.0" y="2473.1" font-size="22.5" fill="#000" textLength="29.7" lengthAdjust="spacingAndGlyphs">20</text>
<line x1="1091.4" y1="2531.5" x2="1101.0" y2="2531.5" stroke="#333" stroke-width="1.3"/>
<text x="1051.5" y="2539.3" font-size="22.5" fill="#000" textLength="27.2" lengthAdjust="spacingAndGlyphs">10</text>
<line x1="1091.4" y1="2598.0" x2="1101.0" y2="2598.0" stroke="#333" stroke-width="1.3"/>
<text x="1066.2" y="2605.8" font-size="22.5" fill="#000">0</text>
<line x1="1150.3" y1="2443.5" x2="1150.3" y2="2466.7" stroke="#000" stroke-width="2.9"/>
<line x1="1150.3" y1="2537.2" x2="1150.3" y2="2592.4" stroke="#000" stroke-width="2.9"/>
<line x1="1138.2" y1="2443.5" x2="1162.4" y2="2443.5" stroke="#000" stroke-width="2.5"/>
<line x1="1138.2" y1="2592.4" x2="1162.4" y2="2592.4" stroke="#000" stroke-width="2.5"/>
<rect x="1126.9" y="2466.7" width="47.1" height="70.5" fill="#bcc7e2" stroke="#000" stroke-width="2.8"/>
<line x1="1126.9" y1="2491.6" x2="1174.0" y2="2491.6" stroke="#000" stroke-width="2.6"/>
<circle cx="1150.3" cy="2443.5" r="2.7" fill="#8c8c8c" stroke="#777" stroke-width="0.6" fill-opacity="0.42" stroke-opacity="0.4"/>
<circle cx="1150.3" cy="2454.2" r="2.7" fill="#8c8c8c" stroke="#777" stroke-width="0.6" fill-opacity="0.42" stroke-opacity="0.4"/>
<circle cx="1150.3" cy="2469.2" r="2.7" fill="#8c8c8c" stroke="#777" stroke-width="0.6" fill-opacity="0.42" stroke-opacity="0.4"/>
<circle cx="1150.3" cy="2480.6" r="2.7" fill="#8c8c8c" stroke="#777" stroke-width="0.6" fill-opacity="0.42" stroke-opacity="0.4"/>
<circle cx="1150.3" cy="2489.1" r="2.7" fill="#8c8c8c" stroke="#777" stroke-width="0.6" fill-opacity="0.42" stroke-opacity="0.4"/>
<circle cx="1150.3" cy="2494.7" r="2.7" fill="#8c8c8c" stroke="#777" stroke-width="0.6" fill-opacity="0.42" stroke-opacity="0.4"/>
<circle cx="1150.3" cy="2515.9" r="2.7" fill="#8c8c8c" stroke="#777" stroke-width="0.6" fill-opacity="0.42" stroke-opacity="0.4"/>
<circle cx="1150.3" cy="2522.2" r="2.7" fill="#8c8c8c" stroke="#777" stroke-width="0.6" fill-opacity="0.42" stroke-opacity="0.4"/>
<circle cx="1155.7" cy="2588.7" r="2.7" fill="#8c8c8c" stroke="#777" stroke-width="0.6" fill-opacity="0.42" stroke-opacity="0.4"/>
<circle cx="1145.2" cy="2592.4" r="2.7" fill="#8c8c8c" stroke="#777" stroke-width="0.6" fill-opacity="0.42" stroke-opacity="0.4"/>
<line x1="1227.0" y1="2397.1" x2="1227.0" y2="2421.4" stroke="#000" stroke-width="2.9"/>
<line x1="1227.0" y1="2493.6" x2="1227.0" y2="2523.9" stroke="#000" stroke-width="2.9"/>
<line x1="1215.0" y1="2397.1" x2="1239.0" y2="2397.1" stroke="#000" stroke-width="2.5"/>
<line x1="1215.0" y1="2523.9" x2="1239.0" y2="2523.9" stroke="#000" stroke-width="2.5"/>
<rect x="1203.6" y="2421.4" width="46.8" height="72.2" fill="#ffc183" stroke="#000" stroke-width="2.8"/>
<line x1="1203.6" y1="2457.9" x2="1250.4" y2="2457.9" stroke="#000" stroke-width="2.6"/>
<circle cx="1227.0" cy="2397.1" r="2.7" fill="#8c8c8c" stroke="#777" stroke-width="0.6" fill-opacity="0.42" stroke-opacity="0.4"/>
<circle cx="1227.0" cy="2406.4" r="2.7" fill="#8c8c8c" stroke="#777" stroke-width="0.6" fill-opacity="0.42" stroke-opacity="0.4"/>
<circle cx="1227.0" cy="2425.4" r="2.7" fill="#8c8c8c" stroke="#777" stroke-width="0.6" fill-opacity="0.42" stroke-opacity="0.4"/>
<circle cx="1227.0" cy="2431.3" r="2.7" fill="#8c8c8c" stroke="#777" stroke-width="0.6" fill-opacity="0.42" stroke-opacity="0.4"/>
<circle cx="1216.5" cy="2459.6" r="2.7" fill="#8c8c8c" stroke="#777" stroke-width="0.6" fill-opacity="0.42" stroke-opacity="0.4"/>
<circle cx="1237.7" cy="2457.1" r="2.7" fill="#8c8c8c" stroke="#777" stroke-width="0.6" fill-opacity="0.42" stroke-opacity="0.4"/>
<circle cx="1227.0" cy="2462.5" r="2.7" fill="#8c8c8c" stroke="#777" stroke-width="0.6" fill-opacity="0.42" stroke-opacity="0.4"/>
<circle cx="1227.0" cy="2486.2" r="2.7" fill="#8c8c8c" stroke="#777" stroke-width="0.6" fill-opacity="0.42" stroke-opacity="0.4"/>
<circle cx="1232.4" cy="2521.0" r="2.7" fill="#8c8c8c" stroke="#777" stroke-width="0.6" fill-opacity="0.42" stroke-opacity="0.4"/>
<circle cx="1221.6" cy="2523.9" r="2.7" fill="#8c8c8c" stroke="#777" stroke-width="0.6" fill-opacity="0.42" stroke-opacity="0.4"/>
<text x="1219.4" y="2379.0" font-size="29" fill="#000" textLength="13.0" lengthAdjust="spacingAndGlyphs">*</text>
<text x="959.2" y="2465.0" font-size="26" fill="#000" textLength="68.0" lengthAdjust="spacingAndGlyphs" transform="rotate(-90 993.2 2465.0)">ConA</text>
<text x="939.6" y="2465.3" font-size="26" textLength="170.5" lengthAdjust="spacingAndGlyphs" transform="rotate(-90 1024.9 2465.3)">IL-10 (pg ml<tspan font-size="15.5" dy="-11.5">−1</tspan><tspan dy="11.5">)</tspan></text>
</svg>
</body></html>
